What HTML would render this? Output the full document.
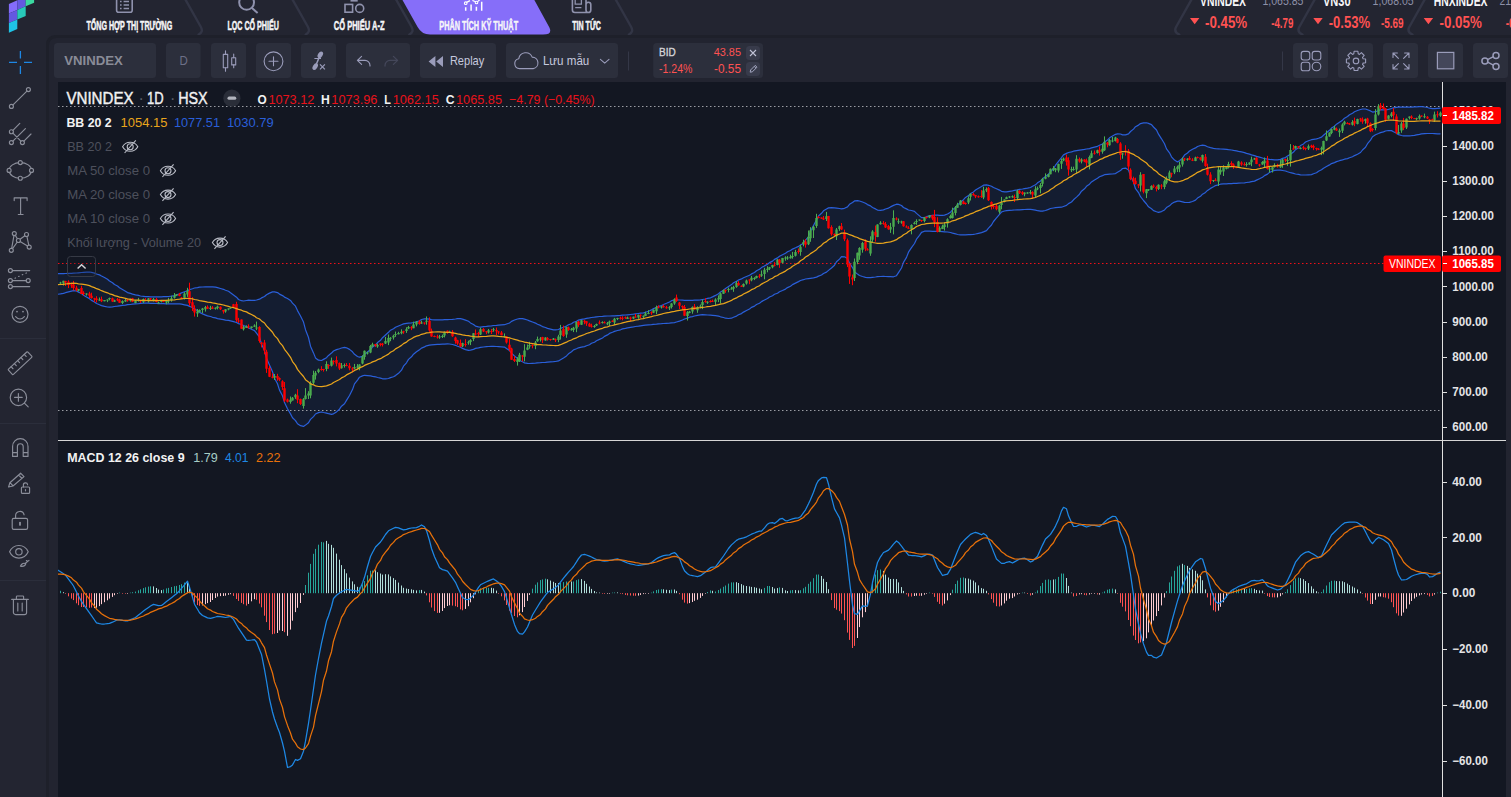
<!DOCTYPE html>
<html lang="vi"><head><meta charset="utf-8"><title>VNINDEX - Phân tích kỹ thuật</title>
<style>
html,body{margin:0;padding:0}
body{width:1511px;height:797px;overflow:hidden;background:#232531;position:relative;font-family:"Liberation Sans", sans-serif}
svg{display:block;overflow:hidden}
#nav{position:absolute;left:0;top:0;width:1511px;height:38px;overflow:hidden}
#side{position:absolute;left:0;top:38px;width:46px;height:759px}
#frame{position:absolute;left:46px;top:35px;width:1465px;height:762px;background:#1e202a;border-radius:9px 0 0 0}
#main{position:absolute;left:49px;top:38px;width:1462px;height:759px;background:#222430;border-radius:7px 0 0 0;overflow:hidden}
#toolbar{position:absolute;left:0;top:0;width:1462px;height:44px}
#chart{position:absolute;left:9px;top:44px;width:1448px;height:715px}
</style></head>
<body>
<div id="nav"><svg width="1511" height="38" viewBox="0 0 1511 38" font-family='"Liberation Sans", sans-serif'>
<path d="M8.9 3.9l8.4 -3.6v9.6l-8.4 3.6z" fill="#846cfb"/>
<path d="M8.9 13.5l8.4 -3.6v9.6l-8.4 3.6z" fill="#6459e0"/>
<path d="M8.9 23.1l8.4 -3.6v9.6l-8.4 3.6z" fill="#1fc3e6"/>
<path d="M17.3 0.3l8.4 -3.6v9.6l-8.4 3.6z" fill="#6459e0"/>
<path d="M17.3 9.9l8.4 -3.6v9.6l-8.4 3.6z" fill="#28c9b9"/>
<path d="M25.7 -3.3l8.4 -3.6v9.6l-8.4 3.6z" fill="#3bd8a0"/>
<path d="M185.1 -1L200.9 27Q203.6 32 198.6 34.5M292.2 -1L308 27Q310.7 32 305.7 34.5M395.8 -1L411.6 27Q414.3 32 409.3 34.5M615.4 -1L631.2 27Q633.9 32 628.9 34.5M1191.8 -1L1175.8 27.5Q1173.8 32 1179.3 34.5M1315 -1L1299 27.5Q1297 32 1302.5 34.5M1425 -1L1409 27.5Q1407 32 1412.5 34.5" fill="none" stroke="#323545" stroke-width="2.4" stroke-linecap="round"/>
<path d="M401.9 -1L417.6 27Q421.8 34.6 430 34.6H543Q552.8 34.6 549.4 27.6L533.8 -1Z" fill="#866ef9"/>
<text x="86.4" y="29.8" font-size="12" fill="#f6f6f8" textLength="85.8" lengthAdjust="spacingAndGlyphs" font-weight="bold" stroke="#f6f6f8" stroke-width="0.45">TỔNG HỢP THỊ TRƯỜNG</text>
<text x="227.4" y="29.8" font-size="12" fill="#f6f6f8" textLength="51.5" lengthAdjust="spacingAndGlyphs" font-weight="bold" stroke="#f6f6f8" stroke-width="0.45">LỌC CỔ PHIẾU</text>
<text x="333.8" y="29.8" font-size="12" fill="#f6f6f8" textLength="50.7" lengthAdjust="spacingAndGlyphs" font-weight="bold" stroke="#f6f6f8" stroke-width="0.45">CỔ PHIẾU A-Z</text>
<text x="439.3" y="29.8" font-size="12" fill="#f6f6f8" textLength="78.8" lengthAdjust="spacingAndGlyphs" font-weight="bold" stroke="#f6f6f8" stroke-width="0.45">PHÂN TÍCH KỸ THUẬT</text>
<text x="572.2" y="29.8" font-size="12" fill="#f6f6f8" textLength="28.7" lengthAdjust="spacingAndGlyphs" font-weight="bold" stroke="#f6f6f8" stroke-width="0.45">TIN TỨC</text>
<g fill="none" stroke="#8f92ad" stroke-width="1.6"><rect x="116.6" y="-6" width="15.6" height="18.3" rx="2"/><path d="M120 1.5h1.6M123.6 1.5h5.4M120 5h1.6M123.6 5h5.4M120 8.5h1.6M123.6 8.5h5.4" stroke-width="1.3"/></g>
<g fill="none" stroke="#8f92ad" stroke-width="2"><circle cx="246.6" cy="2.4" r="7.4"/><path d="M252 8l5.6 5"/></g>
<g fill="none" stroke="#8f92ad" stroke-width="1.6"><rect x="345" y="4.4" width="7.6" height="7.8"/><circle cx="359.7" cy="8.4" r="4"/><path d="M350.5 0.8h7.2"/></g>
<g fill="none" stroke="#fff" stroke-width="1.5"><path d="M465.7 7.2V10.7M471.1 4.4V10.7M476.4 6.8V10.7M481.7 1.8V10.7"/><path d="M466.6 2.4L470 0.6M472.4 0.4L475.6 1.8M477.6 1.6L480.6 -1" stroke-width="1.2"/><circle cx="465.7" cy="3.2" r="1.3" stroke-width="1.1"/><circle cx="476.5" cy="2.5" r="1.3" stroke-width="1.1"/></g>
<g fill="none" stroke="#8f92ad" stroke-width="1.6"><path d="M572.4 -2V10Q572.4 12.5 574.9 12.5H588.2Q590.8 12.5 590.8 9.9V4.6Q590.8 2.2 588.4 2.2Q586 2.2 586 4.6V10Q586 12.5 588.2 12.5M586 4.6V-2"/><path d="M575.2 -1.5h6.2v5.6h-6.2zM575.2 7.6h6.2" stroke-width="1.3"/></g>
<text x="1200" y="5.5" font-size="14" fill="#f6f6f8" textLength="46" lengthAdjust="spacingAndGlyphs" font-weight="bold">VNINDEX</text>
<text x="1262.4" y="5.3" font-size="13" fill="#8d90a8" textLength="41.1" lengthAdjust="spacingAndGlyphs">1,065.85</text>
<text x="1322.9" y="5.5" font-size="14" fill="#f6f6f8" textLength="27.7" lengthAdjust="spacingAndGlyphs" font-weight="bold">VN30</text>
<text x="1372.6" y="5.3" font-size="13" fill="#8d90a8" textLength="41.1" lengthAdjust="spacingAndGlyphs">1,068.05</text>
<text x="1433.8" y="5.5" font-size="14" fill="#f6f6f8" textLength="53.7" lengthAdjust="spacingAndGlyphs" font-weight="bold">HNXINDEX</text>
<text x="1499.4" y="5.3" font-size="13" fill="#8d90a8" textLength="30.8" lengthAdjust="spacingAndGlyphs">211.94</text>
<path d="M1190 18h9.4l-4.7 6.2zM1313.3 18h9.4l-4.7 6.2zM1423.7 18h9.4l-4.7 6.2z" fill="#ff5252"/>
<text x="1205" y="27.7" font-size="16" fill="#ff5252" textLength="42.2" lengthAdjust="spacingAndGlyphs" font-weight="bold">-0.45%</text>
<text x="1271.2" y="27.7" font-size="14.5" fill="#ff5252" textLength="22.2" lengthAdjust="spacingAndGlyphs" font-weight="bold">-4.79</text>
<text x="1328.7" y="27.7" font-size="16" fill="#ff5252" textLength="41.3" lengthAdjust="spacingAndGlyphs" font-weight="bold">-0.53%</text>
<text x="1380.9" y="27.7" font-size="14.5" fill="#ff5252" textLength="22.7" lengthAdjust="spacingAndGlyphs" font-weight="bold">-5.69</text>
<text x="1439.6" y="27.7" font-size="16" fill="#ff5252" textLength="42.1" lengthAdjust="spacingAndGlyphs" font-weight="bold">-0.05%</text>
<text x="1505.7" y="27.7" font-size="14.5" fill="#ff5252" textLength="22.2" lengthAdjust="spacingAndGlyphs" font-weight="bold">-0.11</text>
</svg></div>
<div id="frame"></div>
<div id="side"><svg width="46" height="759" viewBox="0 38 46 759" fill="none" stroke="#8b8e9a" stroke-width="1.15" stroke-linecap="round" stroke-linejoin="round">
<path d="M9 62.3h8M24 62.3h8M20.4 51v7.6M20.4 66v8" stroke="#1e88e5" stroke-width="1.3" stroke-linecap="butt"/>
<circle cx="28.4" cy="89.6" r="2"/><circle cx="11.4" cy="106.4" r="2"/><path d="M13 104.9L26.9 91.1"/>
<circle cx="11.4" cy="131.7" r="2"/><circle cx="11.4" cy="142.6" r="2"/><circle cx="22.4" cy="142.6" r="2"/><path d="M12.9 130.3L19.8 123.4M12.9 141.2L25.4 128.6M23.9 141.2L31 134M12.9 133.2L20.9 141.1"/>
<ellipse cx="20.3" cy="170.4" rx="11.2" ry="7.8"/>
<g fill="#232531"><circle cx="20.3" cy="162.6" r="2"/><circle cx="20.3" cy="178.2" r="2"/><circle cx="9.1" cy="170.4" r="2"/><circle cx="31.5" cy="170.4" r="2"/></g>
<path d="M14.2 200.6v-2.8h12.9v2.8M20.6 197.8v16.7M18.3 214.5h4.8"/>
<path d="M11.3 250.3L14.3 233.6L18.4 240.5L26.5 234.5L29.2 247.1L18.4 240.5L11.3 250.3"/>
<g fill="#232531"><circle cx="14.3" cy="233.6" r="2"/><circle cx="26.5" cy="234.5" r="2"/><circle cx="18.4" cy="240.5" r="2"/><circle cx="29.2" cy="247.1" r="2"/><circle cx="11.3" cy="250.3" r="2"/></g>
<path d="M12.4 270.6H29.7M12.4 280.6H26.2M12.4 286.6H29.7"/><path d="M15 278.2L28.4 272" stroke-dasharray="0.6 3.4"/>
<circle cx="10.4" cy="270.6" r="2"/><circle cx="10.4" cy="280.6" r="2"/><circle cx="28.2" cy="280.6" r="2"/><circle cx="10.4" cy="286.6" r="2"/>
<circle cx="20" cy="314.3" r="8"/><path d="M15.6 316.6Q20 321.4 24.4 316.6"/><circle cx="17" cy="311.6" r="0.9" fill="#8b8e9a" stroke="none"/><circle cx="23" cy="311.6" r="0.9" fill="#8b8e9a" stroke="none"/>
<path d="M0 338.5H46M0 423.5H46M0 580.5H46" stroke="#2b2e3b" stroke-width="1"/>
<g transform="translate(20.1 363.2) rotate(-43)"><rect x="-13.3" y="-3.6" width="26.6" height="7.2" rx="0.8"/><path d="M-9 -3.6v2.8M-4.5 -3.6v2.8M0 -3.6v2.8M4.5 -3.6v2.8M9 -3.6v2.8"/></g>
<circle cx="18.4" cy="397.4" r="8.2"/><path d="M24.4 403.2L28.2 406.8M14.6 397.4h7.6M18.4 393.6v7.6"/>
<path d="M12.6 456.4V446.4a7.7 7.7 0 0 1 15.4 0V456.4H23.2V446.6a2.9 2.9 0 0 0 -5.8 0V456.4ZM12.6 452.6h4.8M23.2 452.6h4.8"/>
<path d="M8.6 487l1.3 -4.3L20.6 473.2l3.4 3.4L13 486ZM10 482.6l3.1 3.3M18.6 475l3.4 3.4"/>
<rect x="21.4" y="487" width="8.2" height="6.4" rx="1"/><path d="M23.4 487v-1.8a2.1 2.1 0 0 1 4.2 -0.4M25.5 489.6v1.2"/>
<rect x="12.2" y="518.4" width="15.4" height="11" rx="1.6"/><path d="M15.6 518.4v-2.6a4.3 4.3 0 0 1 8.5 -1M20 522.6v2.4" /><path d="M20 522.6v2.4" stroke-width="1.6"/>
<path d="M9.6 551.8C13.4 543.4 24.4 543.4 28.2 551.8C24.4 560.2 13.4 560.2 9.6 551.8Z"/><circle cx="18.9" cy="551.8" r="3.2"/>
<path d="M20.4 566.2c1.2 -2.6 3.6 -3.6 5.4 -2.4c-0.6 2 -2.6 2.8 -5.4 2.4ZM25.4 563.2l3.6 -2.8M26.4 560.6l1.2 0.8"/>
<path d="M11.7 599.4H28.3M16.4 599.4v-2.6a0.8 0.8 0 0 1 0.8 -0.8h5.6a0.8 0.8 0 0 1 0.8 0.8v2.6M13.4 599.4v13a2.2 2.2 0 0 0 2.2 2.2h8.8a2.2 2.2 0 0 0 2.2 -2.2v-13M17.8 603v8M22.2 603v8"/>
</svg></div>
<div id="main">
<div id="toolbar"><svg width="1462" height="44" viewBox="49 38 1462 44" font-family='"Liberation Sans", sans-serif'>
<rect x="54" y="43" width="102" height="35" rx="3.5" fill="#2c2f3c"/>
<rect x="166" y="43" width="34.6" height="35" rx="3.5" fill="#2c2f3c"/>
<rect x="211" y="43" width="35" height="35" rx="3.5" fill="#2c2f3c"/>
<rect x="256" y="43" width="35" height="35" rx="3.5" fill="#2c2f3c"/>
<rect x="301" y="43" width="35" height="35" rx="3.5" fill="#2c2f3c"/>
<rect x="346" y="43" width="64" height="35" rx="3.5" fill="#2c2f3c"/>
<rect x="420" y="43" width="76" height="35" rx="3.5" fill="#2c2f3c"/>
<rect x="506" y="43" width="112" height="35" rx="3.5" fill="#2c2f3c"/>
<rect x="653.2" y="43" width="109.8" height="35" rx="3.5" fill="#2c2f3c"/>
<rect x="1293" y="43" width="35" height="35" rx="3.5" fill="#2c2f3c"/>
<rect x="1338" y="43" width="35" height="35" rx="3.5" fill="#2c2f3c"/>
<rect x="1383" y="43" width="35" height="35" rx="3.5" fill="#2c2f3c"/>
<rect x="1428" y="43" width="35" height="35" rx="3.5" fill="#2c2f3c"/>
<rect x="1473" y="43" width="35" height="35" rx="3.5" fill="#2c2f3c"/>
<text x="64.2" y="64.9" font-size="13" fill="#8a8c98" textLength="58.6" lengthAdjust="spacingAndGlyphs" font-weight="bold">VNINDEX</text>
<text x="179.4" y="65" font-size="13" fill="#6d7087" textLength="8.3" lengthAdjust="spacingAndGlyphs">D</text>
<g fill="none" stroke="#9a9cba" stroke-width="1.1" stroke-linecap="round" stroke-linejoin="round"><rect x="223.3" y="54.4" width="4.4" height="13.4"/><path d="M225.5 50.8v3.6M225.5 67.8v3.4"/><rect x="231.7" y="57.7" width="4" height="7.2"/><path d="M233.7 54v3.7M233.7 64.9v2.9"/></g>
<g fill="none" stroke="#9a9cba" stroke-width="1.1" stroke-linecap="round" stroke-linejoin="round"><circle cx="273.5" cy="61.3" r="9.4"/><path d="M269 61.3h9M273.5 56.8v9"/></g>
<g><ellipse cx="320.3" cy="54.8" rx="3.6" ry="2.3" transform="rotate(-58 320.3 54.8)" fill="#9a9cba"/><ellipse cx="315.2" cy="66.6" rx="3.6" ry="2.3" transform="rotate(-58 315.2 66.6)" fill="#9a9cba"/><path d="M319.6 56.4L316 65" stroke="#9a9cba" stroke-width="1.5" fill="none"/><path d="M314.4 58.5h6.6" stroke="#9a9cba" stroke-width="1.2" fill="none"/><path d="M320 64.4l4.9 4.9M324.9 64.4l-4.9 4.9" stroke="#9a9cba" stroke-width="1.2" fill="none"/></g>
<g fill="none" stroke="#9a9cba" stroke-width="1.1" stroke-linecap="round" stroke-linejoin="round"><path d="M361.6 56.4l-4.2 4l4.2 4M357.6 60.4h7.4a5 5 0 0 1 5 5v0.6"/></g>
<g fill="none" stroke="#44475a" stroke-width="1.25" stroke-linecap="round" stroke-linejoin="round"><path d="M393.4 56.4l4.2 4l-4.2 4M397.4 60.4h-7.4a5 5 0 0 0 -5 5v0.6"/></g>
<path d="M435.4 56v11l-6.8 -5.5zM443 56v11l-6.8 -5.5z" fill="#9a9cba"/>
<text x="449.9" y="65" font-size="13" fill="#c6c9de" textLength="34.4" lengthAdjust="spacingAndGlyphs">Replay</text>
<g fill="none" stroke="#9a9cba" stroke-width="1.1" stroke-linecap="round" stroke-linejoin="round"><path d="M519.6 68.6a5 5 0 0 1 -0.8 -9.9a7 7 0 0 1 13.4 -1.6a5.8 5.8 0 0 1 1 11.5Z"/></g>
<text x="542.9" y="65" font-size="13" fill="#c6c9de" textLength="46.4" lengthAdjust="spacingAndGlyphs">Lưu mẫu</text>
<path d="M600.4 59.4l4.3 3.8l4.3 -3.8" fill="none" stroke="#9a9cba" stroke-width="1.1" stroke-linecap="round" stroke-linejoin="round"/>
<path d="M628.5 51.5V70.5M1282.5 51.5V70.5" stroke="#343747" stroke-width="1"/>
<text x="659" y="55.9" font-size="11" fill="#d4d4d8" textLength="16.7" lengthAdjust="spacingAndGlyphs" stroke="#d4d4d8" stroke-width="0.35">BID</text>
<text x="713.7" y="56" font-size="11.5" fill="#ff5252" textLength="27.3" lengthAdjust="spacingAndGlyphs">43.85</text>
<text x="659" y="73" font-size="12.5" fill="#ff5252" textLength="33.4" lengthAdjust="spacingAndGlyphs">-1.24%</text>
<text x="714" y="73" font-size="12.5" fill="#ff5252" textLength="27" lengthAdjust="spacingAndGlyphs">-0.55</text>
<rect x="746" y="46" width="14" height="14" rx="3.5" fill="#383b4b"/>
<rect x="746" y="62" width="14" height="14" rx="3.5" fill="#383b4b"/>
<path d="M750 50l6 6M756 50l-6 6" stroke="#c0c2d6" stroke-width="1.1" fill="none"/>
<path d="M750.2 72.2l0.4 -2.2l4.6 -4.6l1.8 1.8l-4.6 4.6zM754.2 66.4l1.8 1.8" stroke="#a3a6c0" stroke-width="1" fill="none" stroke-linejoin="round"/>
<g fill="none" stroke="#9a9cba" stroke-width="1.1" stroke-linecap="round" stroke-linejoin="round"><rect x="1301.2" y="51.4" width="8.6" height="8.6" rx="2.4"/><rect x="1312.2" y="51.4" width="8.6" height="8.6" rx="2.4"/><rect x="1301.2" y="62.2" width="8.6" height="8.6" rx="2.4"/><circle cx="1316.5" cy="66.5" r="4.3"/></g>
<g fill="none" stroke="#9a9cba" stroke-width="1.1" stroke-linecap="round" stroke-linejoin="round"><path d="M1354.1 51.3L1357.9 51.3L1358.2 53.8L1359.5 54.4L1361.4 52.7L1364.2 55.5L1362.5 57.4L1363.1 58.7L1365.6 59L1365.6 62.8L1363.1 63.1L1362.5 64.4L1364.2 66.3L1361.4 69.1L1359.5 67.4L1358.2 68L1357.9 70.5L1354.1 70.5L1353.8 68L1352.5 67.4L1350.6 69.1L1347.8 66.3L1349.5 64.4L1348.9 63.1L1346.4 62.8L1346.4 59L1348.9 58.7L1349.5 57.4L1347.8 55.5L1350.6 52.7L1352.5 54.4L1353.8 53.8Z"/><circle cx="1356" cy="60.9" r="2.8"/></g>
<g fill="none" stroke="#9a9cba" stroke-width="1.1" stroke-linecap="round" stroke-linejoin="round"><path d="M1393 57.4v-4.4h4.4M1393 53l5.4 5.4M1409 57.4v-4.4h-4.4M1409 53l-5.4 5.4M1393 64.6v4.4h4.4M1393 69l5.4 -5.4M1409 64.6v4.4h-4.4M1409 69l-5.4 -5.4"/></g>
<rect x="1437.4" y="52.4" width="16.4" height="16.4" fill="#44475a" stroke="#9a9cba" stroke-width="1.2"/>
<g fill="none" stroke="#9a9cba" stroke-width="1.5"><circle cx="1496" cy="55.4" r="3"/><circle cx="1496" cy="66.4" r="3"/><circle cx="1484.9" cy="60.9" r="3"/><path d="M1487.6 59.6l5.8 -2.9M1487.6 62.2l5.8 2.9"/></g>
</svg></div>
<div id="chart"><svg id="chartsvg" width="1448" height="715" viewBox="58 82 1448 715" font-family='"Liberation Sans", sans-serif'>
<rect x="58" y="82" width="1448" height="715" fill="#131722"/>
<path d="M57 273.7 L60.5 273.6 L63.5 273.6 L65.5 273.5 L68.5 273.4 L71.5 273.3 L73.5 273.2 L76.5 273 L78.5 272.8 L81.5 272.5 L83.5 272.3 L86.5 272.1 L89.5 272 L91.5 272.4 L94.5 273.1 L96.5 274 L99.5 274.9 L101.5 276 L104.5 277.5 L107.5 279.2 L109.5 281 L112.5 282.7 L114.5 284.5 L117.5 286 L119.5 287.8 L122.5 289.5 L125.5 291.2 L127.5 292.6 L130.5 293.4 L132.5 294.1 L135.5 294.8 L138.5 295.4 L140.5 296 L143.5 296.3 L145.5 296.6 L148.5 296.7 L150.5 296.8 L153.5 296.9 L156.5 296.9 L158.5 296.9 L161.5 296.8 L163.5 296.7 L166.5 296.6 L168.5 296.5 L171.5 296.2 L174.5 295.6 L176.5 294.8 L179.5 293.9 L181.5 292.9 L184.5 291.8 L187.5 290.7 L189.5 289.6 L192.5 288.7 L194.5 288 L197.5 287.6 L199.5 287.2 L202.5 287 L205.5 286.8 L207.5 286.8 L210.5 286.9 L212.5 286.9 L215.5 287.2 L217.5 287.7 L220.5 288.5 L223.5 289.3 L225.5 290.2 L228.5 291.2 L230.5 292.8 L233.5 294.9 L236.5 297.2 L238.5 299.5 L241.5 300.7 L243.5 301 L246.5 300.5 L248.5 300.2 L251.5 300.3 L254.5 300.4 L256.5 300 L259.5 299.2 L261.5 297.9 L264.5 296.5 L266.5 294.7 L269.5 293.1 L272.5 291.9 L274.5 291.9 L277.5 292.6 L279.5 294.1 L282.5 295.6 L284.5 297.1 L287.5 298.5 L290.5 300.4 L292.5 303.1 L295.5 306.2 L297.5 310.6 L300.5 316 L303.5 322.1 L305.5 329.7 L308.5 337.5 L310.5 346.2 L313.5 352.9 L315.5 357.9 L318.5 360.2 L321.5 360.5 L323.5 359.4 L326.5 357.7 L328.5 355.4 L331.5 353.1 L333.5 351 L336.5 349.6 L339.5 348.7 L341.5 348 L344.5 347.4 L346.5 347.8 L349.5 349.4 L352.5 351.8 L354.5 354.3 L357.5 356.5 L359.5 357.2 L362.5 356.4 L364.5 354.2 L367.5 351.9 L370.5 349.5 L372.5 347.1 L375.5 345 L377.5 342.6 L380.5 340.3 L382.5 337.7 L385.5 335 L388.5 332.3 L390.5 330.2 L393.5 328.7 L395.5 327.3 L398.5 326 L401.5 324.7 L403.5 323.9 L406.5 323.4 L408.5 323.2 L411.5 322.9 L413.5 322.5 L416.5 321.8 L419.5 320.7 L421.5 319.5 L424.5 318.9 L426.5 318.8 L429.5 319.2 L431.5 319.7 L434.5 319.9 L437.5 319.9 L439.5 319.9 L442.5 319.8 L444.5 319.7 L447.5 319.6 L449.5 319.5 L452.5 319.3 L455.5 319 L457.5 318.6 L460.5 318.6 L462.5 319.1 L465.5 320.1 L468.5 321.3 L470.5 322.9 L473.5 324.6 L475.5 326.1 L478.5 326.9 L480.5 327.1 L483.5 326.7 L486.5 326.4 L488.5 326.1 L491.5 325.8 L493.5 325.5 L496.5 325.3 L498.5 325.1 L501.5 324.9 L504.5 324.7 L506.5 324 L509.5 323 L511.5 321.4 L514.5 320 L517.5 319 L519.5 318.6 L522.5 318.7 L524.5 319.2 L527.5 320 L529.5 320.9 L532.5 322 L535.5 323.1 L537.5 324.3 L540.5 325.4 L542.5 326.6 L545.5 327.5 L547.5 328.4 L550.5 329.1 L553.5 329.8 L555.5 329.9 L558.5 329.5 L560.5 328.4 L563.5 327.3 L566.5 326.1 L568.5 324.8 L571.5 323.7 L573.5 322.3 L576.5 321.2 L578.5 320.1 L581.5 319.4 L584.5 318.9 L586.5 318.4 L589.5 317.9 L591.5 317.5 L594.5 317.2 L596.5 316.8 L599.5 316.5 L602.5 316.3 L604.5 316.1 L607.5 316 L609.5 316 L612.5 315.9 L614.5 315.8 L617.5 315.6 L620.5 315.4 L622.5 315.2 L625.5 315 L627.5 314.8 L630.5 314.5 L633.5 314.2 L635.5 313.9 L638.5 313.5 L640.5 313.2 L643.5 312.9 L645.5 312.2 L648.5 311.2 L651.5 309.9 L653.5 308.6 L656.5 307.5 L658.5 306.4 L661.5 305.6 L663.5 304.5 L666.5 303.3 L669.5 302 L671.5 300.7 L674.5 300 L676.5 299.8 L679.5 300 L682.5 300.2 L684.5 300.3 L687.5 300.4 L689.5 300.4 L692.5 300.3 L694.5 300.2 L697.5 300.1 L700.5 299.9 L702.5 299.5 L705.5 299 L707.5 298.4 L710.5 297.8 L712.5 296.9 L715.5 295.4 L718.5 293.7 L720.5 291.9 L723.5 290.2 L725.5 288.4 L728.5 286.5 L731.5 284.6 L733.5 282.8 L736.5 281.4 L738.5 280 L741.5 278.9 L743.5 277.7 L746.5 276.5 L749.5 275.3 L751.5 273.9 L754.5 272.5 L756.5 270.8 L759.5 269.3 L761.5 267.6 L764.5 265.9 L767.5 264.3 L769.5 262.6 L772.5 261.1 L774.5 259.4 L777.5 257.9 L779.5 256.3 L782.5 254.7 L785.5 253.2 L787.5 251.8 L790.5 250.5 L792.5 249.1 L795.5 247.8 L798.5 246.4 L800.5 245.1 L803.5 243.2 L805.5 240.2 L808.5 236.8 L810.5 231.2 L813.5 225.5 L816.5 219.8 L818.5 216 L821.5 213.3 L823.5 210.8 L826.5 209 L828.5 207.9 L831.5 207.7 L834.5 207.9 L836.5 208.1 L839.5 208.5 L841.5 208.9 L844.5 208.3 L847.5 206.9 L849.5 204.3 L852.5 202.4 L854.5 200.9 L857.5 200.6 L859.5 201 L862.5 202 L865.5 203.2 L867.5 204.6 L870.5 205.9 L872.5 207.5 L875.5 208.9 L877.5 210.1 L880.5 210.3 L883.5 209.9 L885.5 209 L888.5 208.1 L890.5 206.9 L893.5 205.4 L896.5 204.2 L898.5 204.4 L901.5 205.5 L903.5 207.5 L906.5 208.9 L908.5 210 L911.5 210.5 L914.5 211.4 L916.5 213.4 L919.5 215.9 L921.5 217.6 L924.5 217.7 L926.5 216.7 L929.5 215.9 L932.5 215.3 L934.5 215.1 L937.5 215.2 L939.5 215.3 L942.5 215.4 L944.5 215.1 L947.5 214 L950.5 212.2 L952.5 209.8 L955.5 207.5 L957.5 204.9 L960.5 202.2 L963.5 199.7 L965.5 197.4 L968.5 195.6 L970.5 193.6 L973.5 191.9 L975.5 190 L978.5 188.2 L981.5 186.5 L983.5 185.2 L986.5 184.8 L988.5 185.3 L991.5 186.3 L993.5 187.5 L996.5 188.8 L999.5 190.1 L1001.5 191.3 L1004.5 191.9 L1006.5 191.9 L1009.5 191.4 L1012.5 190.9 L1014.5 190.3 L1017.5 189.9 L1019.5 189.4 L1022.5 189 L1024.5 188.6 L1027.5 188.1 L1030.5 187.5 L1032.5 186.3 L1035.5 184.8 L1037.5 182.8 L1040.5 181 L1042.5 178.8 L1045.5 176.5 L1048.5 174.2 L1050.5 171.5 L1053.5 168.7 L1055.5 165.2 L1058.5 161.4 L1061.5 157.7 L1063.5 154.9 L1066.5 153.4 L1068.5 152.5 L1071.5 151.9 L1073.5 151.2 L1076.5 150.6 L1079.5 150.1 L1081.5 149.8 L1084.5 149.4 L1086.5 149 L1089.5 148.6 L1091.5 147.9 L1094.5 147.1 L1097.5 146.3 L1099.5 145.3 L1102.5 144 L1104.5 142.1 L1107.5 140 L1109.5 137.8 L1112.5 136 L1115.5 134.3 L1117.5 133.8 L1120.5 134 L1122.5 134.9 L1125.5 134.9 L1128.5 133.9 L1130.5 131.5 L1133.5 129.1 L1135.5 126.7 L1138.5 125.1 L1140.5 123.6 L1143.5 122.9 L1146.5 122.8 L1148.5 123.4 L1151.5 124.6 L1153.5 127 L1156.5 130 L1158.5 134.2 L1161.5 138.8 L1164.5 143.8 L1166.5 148.9 L1169.5 152.8 L1171.5 156.8 L1174.5 160.1 L1177.5 161.9 L1179.5 160.8 L1182.5 158.1 L1184.5 155.1 L1187.5 153 L1189.5 151 L1192.5 149.3 L1195.5 147.9 L1197.5 146.5 L1200.5 145.5 L1202.5 145.2 L1205.5 145.7 L1207.5 146.7 L1210.5 147.6 L1213.5 148.3 L1215.5 148.7 L1218.5 148.8 L1220.5 149 L1223.5 149.2 L1226.5 149.4 L1228.5 149.7 L1231.5 150 L1233.5 150.4 L1236.5 150.8 L1238.5 151.3 L1241.5 151.9 L1244.5 152.6 L1246.5 153.4 L1249.5 154.1 L1251.5 154.9 L1254.5 155.6 L1256.5 156.4 L1259.5 157.2 L1262.5 158 L1264.5 158.7 L1267.5 159.1 L1269.5 159.4 L1272.5 159.7 L1274.5 159.9 L1277.5 159.8 L1280.5 159.4 L1282.5 158.4 L1285.5 157.6 L1287.5 156.1 L1290.5 154.2 L1293.5 152 L1295.5 149.7 L1298.5 147.7 L1300.5 145.6 L1303.5 143.9 L1305.5 142 L1308.5 140.7 L1311.5 139.7 L1313.5 139.3 L1316.5 138.9 L1318.5 138.3 L1321.5 137.1 L1323.5 135.2 L1326.5 132.7 L1329.5 130.3 L1331.5 128.1 L1334.5 126.2 L1336.5 124.2 L1339.5 122.2 L1342.5 120.2 L1344.5 118.2 L1347.5 116.5 L1349.5 114.7 L1352.5 113.2 L1354.5 111.8 L1357.5 110.5 L1360.5 109.5 L1362.5 109 L1365.5 109 L1367.5 109.7 L1370.5 110.9 L1372.5 112.1 L1375.5 111.7 L1378.5 110.6 L1380.5 109.6 L1383.5 109.8 L1385.5 109.8 L1388.5 109.3 L1391.5 108.5 L1393.5 107.8 L1396.5 107.4 L1398.5 107.2 L1401.5 107.2 L1403.5 107.2 L1406.5 107.2 L1409.5 107.2 L1411.5 107.1 L1414.5 106.9 L1416.5 106.8 L1419.5 106.7 L1421.5 106.7 L1424.5 107 L1427.5 107.5 L1429.5 108.2 L1432.5 108.6 L1434.5 108.7 L1437.5 108.4 L1440.5 108.1 L1440.5 133.9 L1437.5 133.8 L1434.5 133.6 L1432.5 133.5 L1429.5 133.5 L1427.5 133.5 L1424.5 133.6 L1421.5 133.9 L1419.5 134.4 L1416.5 134.9 L1414.5 135.4 L1411.5 135.7 L1409.5 135.8 L1406.5 135.9 L1403.5 135.9 L1401.5 135.5 L1398.5 134.7 L1396.5 133.2 L1393.5 131.7 L1391.5 130.6 L1388.5 130.5 L1385.5 131 L1383.5 131.9 L1380.5 132.6 L1378.5 133.5 L1375.5 134.7 L1372.5 136.7 L1370.5 140.1 L1367.5 143.7 L1365.5 147.3 L1362.5 150 L1360.5 152.5 L1357.5 154.2 L1354.5 155.6 L1352.5 156.8 L1349.5 157.8 L1347.5 158.6 L1344.5 159.2 L1342.5 159.9 L1339.5 160.7 L1336.5 161.6 L1334.5 162.6 L1331.5 163.6 L1329.5 164.9 L1326.5 166.5 L1323.5 168.2 L1321.5 169.8 L1318.5 171.2 L1316.5 172.7 L1313.5 173.8 L1311.5 174.6 L1308.5 174.8 L1305.5 175 L1303.5 175 L1300.5 174.8 L1298.5 174.4 L1295.5 174 L1293.5 173.4 L1290.5 172.7 L1287.5 171.8 L1285.5 171 L1282.5 170.5 L1280.5 170.2 L1277.5 170.2 L1274.5 170.4 L1272.5 171.1 L1269.5 172.4 L1267.5 174.1 L1264.5 175.6 L1262.5 177.2 L1259.5 178.7 L1256.5 180.1 L1254.5 181.1 L1251.5 181.6 L1249.5 182.1 L1246.5 182.5 L1244.5 182.8 L1241.5 183 L1238.5 183.1 L1236.5 183.3 L1233.5 183.4 L1231.5 183.6 L1228.5 183.7 L1226.5 183.8 L1223.5 183.9 L1220.5 184.2 L1218.5 184.8 L1215.5 185.6 L1213.5 186.8 L1210.5 188.4 L1207.5 190.4 L1205.5 192.4 L1202.5 194.2 L1200.5 196.3 L1197.5 198.1 L1195.5 200.1 L1192.5 201.5 L1189.5 202.3 L1187.5 202.5 L1184.5 202.3 L1182.5 201.8 L1179.5 201.1 L1177.5 201.1 L1174.5 202.1 L1171.5 203.8 L1169.5 205.8 L1166.5 207.6 L1164.5 209.9 L1161.5 211.6 L1158.5 212.4 L1156.5 211.8 L1153.5 210.6 L1151.5 208.8 L1148.5 206.8 L1146.5 204 L1143.5 200.5 L1140.5 196.7 L1138.5 192.6 L1135.5 188.7 L1133.5 182.3 L1130.5 176 L1128.5 169.9 L1125.5 168.1 L1122.5 168.5 L1120.5 170.6 L1117.5 172.3 L1115.5 173.6 L1112.5 174 L1109.5 174.1 L1107.5 174.3 L1104.5 174.7 L1102.5 175.6 L1099.5 176.8 L1097.5 178.3 L1094.5 180 L1091.5 181.9 L1089.5 184.2 L1086.5 186.3 L1084.5 188.8 L1081.5 191.2 L1079.5 194.2 L1076.5 197.1 L1073.5 199.8 L1071.5 202 L1068.5 203.6 L1066.5 205.4 L1063.5 206.5 L1061.5 207.2 L1058.5 207.4 L1055.5 207.7 L1053.5 208 L1050.5 208.5 L1048.5 209.4 L1045.5 210.5 L1042.5 211.2 L1040.5 211.2 L1037.5 210.7 L1035.5 210.1 L1032.5 209.6 L1030.5 209.4 L1027.5 209.4 L1024.5 209.5 L1022.5 209.6 L1019.5 209.8 L1017.5 209.9 L1014.5 210 L1012.5 210.2 L1009.5 210.4 L1006.5 210.7 L1004.5 211 L1001.5 212 L999.5 214.4 L996.5 217.9 L993.5 221.5 L991.5 225 L988.5 228.1 L986.5 230.6 L983.5 231.9 L981.5 232.6 L978.5 233.3 L975.5 234 L973.5 234.4 L970.5 234.6 L968.5 234.7 L965.5 234.8 L963.5 234.9 L960.5 234.8 L957.5 234.5 L955.5 233.8 L952.5 233.1 L950.5 232.5 L947.5 232 L944.5 231.8 L942.5 231.7 L939.5 231.5 L937.5 231.4 L934.5 231.3 L932.5 231.3 L929.5 231.2 L926.5 231.2 L924.5 231.2 L921.5 232.4 L919.5 235.3 L916.5 239.2 L914.5 243.5 L911.5 247.6 L908.5 252.2 L906.5 257.4 L903.5 262.4 L901.5 268 L898.5 272.6 L896.5 275.7 L893.5 276.8 L890.5 276.7 L888.5 276.6 L885.5 276.5 L883.5 276.4 L880.5 276.5 L877.5 276.7 L875.5 277 L872.5 277.3 L870.5 277.6 L867.5 277.7 L865.5 277.3 L862.5 276.5 L859.5 275.5 L857.5 274.1 L854.5 271.7 L852.5 267.6 L849.5 263.2 L847.5 258.6 L844.5 256.8 L841.5 256.6 L839.5 259.1 L836.5 261.7 L834.5 265.2 L831.5 268 L828.5 270.4 L826.5 272.1 L823.5 273.5 L821.5 275 L818.5 276.1 L816.5 277.1 L813.5 277.8 L810.5 278.3 L808.5 278.6 L805.5 279 L803.5 279.7 L800.5 280.5 L798.5 281.6 L795.5 283.1 L792.5 284.6 L790.5 286.2 L787.5 287.6 L785.5 289.1 L782.5 290.5 L779.5 291.8 L777.5 293.2 L774.5 294.3 L772.5 295.7 L769.5 297 L767.5 298.5 L764.5 300 L761.5 301.6 L759.5 303.2 L756.5 304.5 L754.5 306.1 L751.5 307.4 L749.5 309 L746.5 310.5 L743.5 312.1 L741.5 313.6 L738.5 314.8 L736.5 316.1 L733.5 317.3 L731.5 318.2 L728.5 318.5 L725.5 318.2 L723.5 317.5 L720.5 316.8 L718.5 316.1 L715.5 315.6 L712.5 315.3 L710.5 315.1 L707.5 315 L705.5 314.8 L702.5 314.7 L700.5 314.9 L697.5 315.3 L694.5 316 L692.5 316.6 L689.5 317.2 L687.5 318.1 L684.5 319 L682.5 320 L679.5 321.1 L676.5 322 L674.5 322.6 L671.5 322.8 L669.5 323.1 L666.5 323.3 L663.5 323.5 L661.5 323.7 L658.5 323.9 L656.5 324.2 L653.5 324.3 L651.5 324.6 L648.5 324.8 L645.5 325.1 L643.5 325.4 L640.5 325.8 L638.5 326.2 L635.5 326.5 L633.5 326.9 L630.5 327.3 L627.5 327.8 L625.5 328.3 L622.5 328.9 L620.5 329.8 L617.5 330.5 L614.5 331.4 L612.5 332.3 L609.5 333.4 L607.5 334.9 L604.5 336.4 L602.5 338 L599.5 339.4 L596.5 340.8 L594.5 342.2 L591.5 343.3 L589.5 344.7 L586.5 345.7 L584.5 346.6 L581.5 347.2 L578.5 347.8 L576.5 348.7 L573.5 349.9 L571.5 351.8 L568.5 353.8 L566.5 355.9 L563.5 357.9 L560.5 359.7 L558.5 360.9 L555.5 361.5 L553.5 361.7 L550.5 361.9 L547.5 362.1 L545.5 362.4 L542.5 362.5 L540.5 362.7 L537.5 362.9 L535.5 363.1 L532.5 363.3 L529.5 363.5 L527.5 363.4 L524.5 362.9 L522.5 361.8 L519.5 360.5 L517.5 358.5 L514.5 356 L511.5 353.3 L509.5 350.5 L506.5 348.4 L504.5 347.1 L501.5 346.8 L498.5 346.6 L496.5 346.5 L493.5 346.4 L491.5 346.4 L488.5 346.5 L486.5 346.7 L483.5 347 L480.5 347.3 L478.5 347.8 L475.5 348.4 L473.5 349.4 L470.5 350.2 L468.5 350.3 L465.5 349.6 L462.5 348.4 L460.5 347.2 L457.5 346.3 L455.5 345.3 L452.5 344.5 L449.5 344 L447.5 343.9 L444.5 344.1 L442.5 344.2 L439.5 344.3 L437.5 344.4 L434.5 344.6 L431.5 344.8 L429.5 345.1 L426.5 345.8 L424.5 346.9 L421.5 348.1 L419.5 349.7 L416.5 351.8 L413.5 354.2 L411.5 356.8 L408.5 359.4 L406.5 362.8 L403.5 366.2 L401.5 370.2 L398.5 373.3 L395.5 375.6 L393.5 376.7 L390.5 377.6 L388.5 378.5 L385.5 378.9 L382.5 378.8 L380.5 378.1 L377.5 377.5 L375.5 376.8 L372.5 376.4 L370.5 375.9 L367.5 375.6 L364.5 375.3 L362.5 375.9 L359.5 377.2 L357.5 380.1 L354.5 383.9 L352.5 389.6 L349.5 395.5 L346.5 400.4 L344.5 403.8 L341.5 406.2 L339.5 409.2 L336.5 411.9 L333.5 413.8 L331.5 414.3 L328.5 413.7 L326.5 413.1 L323.5 412.5 L321.5 412 L318.5 412.6 L315.5 414 L313.5 416.6 L310.5 419.4 L308.5 422.7 L305.5 425.1 L303.5 426.4 L300.5 425.7 L297.5 423.8 L295.5 420.6 L292.5 417.7 L290.5 413.9 L287.5 408.7 L284.5 402.6 L282.5 395.8 L279.5 390.1 L277.5 383.8 L274.5 378.2 L272.5 371.7 L269.5 365 L266.5 358.2 L264.5 350.8 L261.5 344 L259.5 337.2 L256.5 333.2 L254.5 330.6 L251.5 329.2 L248.5 327.9 L246.5 326.6 L243.5 325.6 L241.5 324.5 L238.5 323.6 L236.5 322.5 L233.5 321.6 L230.5 320.9 L228.5 320.4 L225.5 320.1 L223.5 319.6 L220.5 319.1 L217.5 318.6 L215.5 317.9 L212.5 317.3 L210.5 316.5 L207.5 315.9 L205.5 315.1 L202.5 313.9 L199.5 312.4 L197.5 310.6 L194.5 309.1 L192.5 307.5 L189.5 306.4 L187.5 305.4 L184.5 304.8 L181.5 304.2 L179.5 303.8 L176.5 303.8 L174.5 303.8 L171.5 303.8 L168.5 303.8 L166.5 303.8 L163.5 303.7 L161.5 303.7 L158.5 303.6 L156.5 303.5 L153.5 303.4 L150.5 303.3 L148.5 303.2 L145.5 303.1 L143.5 303.1 L140.5 303.3 L138.5 303.6 L135.5 303.9 L132.5 304.2 L130.5 304.5 L127.5 304.7 L125.5 305.1 L122.5 305.4 L119.5 305.8 L117.5 306.2 L114.5 306.5 L112.5 306.9 L109.5 307.2 L107.5 307 L104.5 306.4 L101.5 305.6 L99.5 304.7 L96.5 303.5 L94.5 302 L91.5 300.4 L89.5 298.7 L86.5 296.9 L83.5 295.2 L81.5 293.5 L78.5 292.1 L76.5 291 L73.5 290.7 L71.5 291.2 L68.5 291.9 L65.5 292.7 L63.5 293.4 L60.5 293.9 L57 293.9 Z" fill="#2a62e0" fill-opacity="0.08"/>
<path d="M58 106.5H1442M58 410.5H1442" stroke="#9a9ca3" stroke-width="1" stroke-dasharray="1.5 2.5" fill="none"/>
<path d="M58 263.5H1442" stroke="#f01018" stroke-width="1.2" stroke-dasharray="1.5 2.5" fill="none"/>
<path d="M57 273.7 L60.5 273.6 L63.5 273.6 L65.5 273.5 L68.5 273.4 L71.5 273.3 L73.5 273.2 L76.5 273 L78.5 272.8 L81.5 272.5 L83.5 272.3 L86.5 272.1 L89.5 272 L91.5 272.4 L94.5 273.1 L96.5 274 L99.5 274.9 L101.5 276 L104.5 277.5 L107.5 279.2 L109.5 281 L112.5 282.7 L114.5 284.5 L117.5 286 L119.5 287.8 L122.5 289.5 L125.5 291.2 L127.5 292.6 L130.5 293.4 L132.5 294.1 L135.5 294.8 L138.5 295.4 L140.5 296 L143.5 296.3 L145.5 296.6 L148.5 296.7 L150.5 296.8 L153.5 296.9 L156.5 296.9 L158.5 296.9 L161.5 296.8 L163.5 296.7 L166.5 296.6 L168.5 296.5 L171.5 296.2 L174.5 295.6 L176.5 294.8 L179.5 293.9 L181.5 292.9 L184.5 291.8 L187.5 290.7 L189.5 289.6 L192.5 288.7 L194.5 288 L197.5 287.6 L199.5 287.2 L202.5 287 L205.5 286.8 L207.5 286.8 L210.5 286.9 L212.5 286.9 L215.5 287.2 L217.5 287.7 L220.5 288.5 L223.5 289.3 L225.5 290.2 L228.5 291.2 L230.5 292.8 L233.5 294.9 L236.5 297.2 L238.5 299.5 L241.5 300.7 L243.5 301 L246.5 300.5 L248.5 300.2 L251.5 300.3 L254.5 300.4 L256.5 300 L259.5 299.2 L261.5 297.9 L264.5 296.5 L266.5 294.7 L269.5 293.1 L272.5 291.9 L274.5 291.9 L277.5 292.6 L279.5 294.1 L282.5 295.6 L284.5 297.1 L287.5 298.5 L290.5 300.4 L292.5 303.1 L295.5 306.2 L297.5 310.6 L300.5 316 L303.5 322.1 L305.5 329.7 L308.5 337.5 L310.5 346.2 L313.5 352.9 L315.5 357.9 L318.5 360.2 L321.5 360.5 L323.5 359.4 L326.5 357.7 L328.5 355.4 L331.5 353.1 L333.5 351 L336.5 349.6 L339.5 348.7 L341.5 348 L344.5 347.4 L346.5 347.8 L349.5 349.4 L352.5 351.8 L354.5 354.3 L357.5 356.5 L359.5 357.2 L362.5 356.4 L364.5 354.2 L367.5 351.9 L370.5 349.5 L372.5 347.1 L375.5 345 L377.5 342.6 L380.5 340.3 L382.5 337.7 L385.5 335 L388.5 332.3 L390.5 330.2 L393.5 328.7 L395.5 327.3 L398.5 326 L401.5 324.7 L403.5 323.9 L406.5 323.4 L408.5 323.2 L411.5 322.9 L413.5 322.5 L416.5 321.8 L419.5 320.7 L421.5 319.5 L424.5 318.9 L426.5 318.8 L429.5 319.2 L431.5 319.7 L434.5 319.9 L437.5 319.9 L439.5 319.9 L442.5 319.8 L444.5 319.7 L447.5 319.6 L449.5 319.5 L452.5 319.3 L455.5 319 L457.5 318.6 L460.5 318.6 L462.5 319.1 L465.5 320.1 L468.5 321.3 L470.5 322.9 L473.5 324.6 L475.5 326.1 L478.5 326.9 L480.5 327.1 L483.5 326.7 L486.5 326.4 L488.5 326.1 L491.5 325.8 L493.5 325.5 L496.5 325.3 L498.5 325.1 L501.5 324.9 L504.5 324.7 L506.5 324 L509.5 323 L511.5 321.4 L514.5 320 L517.5 319 L519.5 318.6 L522.5 318.7 L524.5 319.2 L527.5 320 L529.5 320.9 L532.5 322 L535.5 323.1 L537.5 324.3 L540.5 325.4 L542.5 326.6 L545.5 327.5 L547.5 328.4 L550.5 329.1 L553.5 329.8 L555.5 329.9 L558.5 329.5 L560.5 328.4 L563.5 327.3 L566.5 326.1 L568.5 324.8 L571.5 323.7 L573.5 322.3 L576.5 321.2 L578.5 320.1 L581.5 319.4 L584.5 318.9 L586.5 318.4 L589.5 317.9 L591.5 317.5 L594.5 317.2 L596.5 316.8 L599.5 316.5 L602.5 316.3 L604.5 316.1 L607.5 316 L609.5 316 L612.5 315.9 L614.5 315.8 L617.5 315.6 L620.5 315.4 L622.5 315.2 L625.5 315 L627.5 314.8 L630.5 314.5 L633.5 314.2 L635.5 313.9 L638.5 313.5 L640.5 313.2 L643.5 312.9 L645.5 312.2 L648.5 311.2 L651.5 309.9 L653.5 308.6 L656.5 307.5 L658.5 306.4 L661.5 305.6 L663.5 304.5 L666.5 303.3 L669.5 302 L671.5 300.7 L674.5 300 L676.5 299.8 L679.5 300 L682.5 300.2 L684.5 300.3 L687.5 300.4 L689.5 300.4 L692.5 300.3 L694.5 300.2 L697.5 300.1 L700.5 299.9 L702.5 299.5 L705.5 299 L707.5 298.4 L710.5 297.8 L712.5 296.9 L715.5 295.4 L718.5 293.7 L720.5 291.9 L723.5 290.2 L725.5 288.4 L728.5 286.5 L731.5 284.6 L733.5 282.8 L736.5 281.4 L738.5 280 L741.5 278.9 L743.5 277.7 L746.5 276.5 L749.5 275.3 L751.5 273.9 L754.5 272.5 L756.5 270.8 L759.5 269.3 L761.5 267.6 L764.5 265.9 L767.5 264.3 L769.5 262.6 L772.5 261.1 L774.5 259.4 L777.5 257.9 L779.5 256.3 L782.5 254.7 L785.5 253.2 L787.5 251.8 L790.5 250.5 L792.5 249.1 L795.5 247.8 L798.5 246.4 L800.5 245.1 L803.5 243.2 L805.5 240.2 L808.5 236.8 L810.5 231.2 L813.5 225.5 L816.5 219.8 L818.5 216 L821.5 213.3 L823.5 210.8 L826.5 209 L828.5 207.9 L831.5 207.7 L834.5 207.9 L836.5 208.1 L839.5 208.5 L841.5 208.9 L844.5 208.3 L847.5 206.9 L849.5 204.3 L852.5 202.4 L854.5 200.9 L857.5 200.6 L859.5 201 L862.5 202 L865.5 203.2 L867.5 204.6 L870.5 205.9 L872.5 207.5 L875.5 208.9 L877.5 210.1 L880.5 210.3 L883.5 209.9 L885.5 209 L888.5 208.1 L890.5 206.9 L893.5 205.4 L896.5 204.2 L898.5 204.4 L901.5 205.5 L903.5 207.5 L906.5 208.9 L908.5 210 L911.5 210.5 L914.5 211.4 L916.5 213.4 L919.5 215.9 L921.5 217.6 L924.5 217.7 L926.5 216.7 L929.5 215.9 L932.5 215.3 L934.5 215.1 L937.5 215.2 L939.5 215.3 L942.5 215.4 L944.5 215.1 L947.5 214 L950.5 212.2 L952.5 209.8 L955.5 207.5 L957.5 204.9 L960.5 202.2 L963.5 199.7 L965.5 197.4 L968.5 195.6 L970.5 193.6 L973.5 191.9 L975.5 190 L978.5 188.2 L981.5 186.5 L983.5 185.2 L986.5 184.8 L988.5 185.3 L991.5 186.3 L993.5 187.5 L996.5 188.8 L999.5 190.1 L1001.5 191.3 L1004.5 191.9 L1006.5 191.9 L1009.5 191.4 L1012.5 190.9 L1014.5 190.3 L1017.5 189.9 L1019.5 189.4 L1022.5 189 L1024.5 188.6 L1027.5 188.1 L1030.5 187.5 L1032.5 186.3 L1035.5 184.8 L1037.5 182.8 L1040.5 181 L1042.5 178.8 L1045.5 176.5 L1048.5 174.2 L1050.5 171.5 L1053.5 168.7 L1055.5 165.2 L1058.5 161.4 L1061.5 157.7 L1063.5 154.9 L1066.5 153.4 L1068.5 152.5 L1071.5 151.9 L1073.5 151.2 L1076.5 150.6 L1079.5 150.1 L1081.5 149.8 L1084.5 149.4 L1086.5 149 L1089.5 148.6 L1091.5 147.9 L1094.5 147.1 L1097.5 146.3 L1099.5 145.3 L1102.5 144 L1104.5 142.1 L1107.5 140 L1109.5 137.8 L1112.5 136 L1115.5 134.3 L1117.5 133.8 L1120.5 134 L1122.5 134.9 L1125.5 134.9 L1128.5 133.9 L1130.5 131.5 L1133.5 129.1 L1135.5 126.7 L1138.5 125.1 L1140.5 123.6 L1143.5 122.9 L1146.5 122.8 L1148.5 123.4 L1151.5 124.6 L1153.5 127 L1156.5 130 L1158.5 134.2 L1161.5 138.8 L1164.5 143.8 L1166.5 148.9 L1169.5 152.8 L1171.5 156.8 L1174.5 160.1 L1177.5 161.9 L1179.5 160.8 L1182.5 158.1 L1184.5 155.1 L1187.5 153 L1189.5 151 L1192.5 149.3 L1195.5 147.9 L1197.5 146.5 L1200.5 145.5 L1202.5 145.2 L1205.5 145.7 L1207.5 146.7 L1210.5 147.6 L1213.5 148.3 L1215.5 148.7 L1218.5 148.8 L1220.5 149 L1223.5 149.2 L1226.5 149.4 L1228.5 149.7 L1231.5 150 L1233.5 150.4 L1236.5 150.8 L1238.5 151.3 L1241.5 151.9 L1244.5 152.6 L1246.5 153.4 L1249.5 154.1 L1251.5 154.9 L1254.5 155.6 L1256.5 156.4 L1259.5 157.2 L1262.5 158 L1264.5 158.7 L1267.5 159.1 L1269.5 159.4 L1272.5 159.7 L1274.5 159.9 L1277.5 159.8 L1280.5 159.4 L1282.5 158.4 L1285.5 157.6 L1287.5 156.1 L1290.5 154.2 L1293.5 152 L1295.5 149.7 L1298.5 147.7 L1300.5 145.6 L1303.5 143.9 L1305.5 142 L1308.5 140.7 L1311.5 139.7 L1313.5 139.3 L1316.5 138.9 L1318.5 138.3 L1321.5 137.1 L1323.5 135.2 L1326.5 132.7 L1329.5 130.3 L1331.5 128.1 L1334.5 126.2 L1336.5 124.2 L1339.5 122.2 L1342.5 120.2 L1344.5 118.2 L1347.5 116.5 L1349.5 114.7 L1352.5 113.2 L1354.5 111.8 L1357.5 110.5 L1360.5 109.5 L1362.5 109 L1365.5 109 L1367.5 109.7 L1370.5 110.9 L1372.5 112.1 L1375.5 111.7 L1378.5 110.6 L1380.5 109.6 L1383.5 109.8 L1385.5 109.8 L1388.5 109.3 L1391.5 108.5 L1393.5 107.8 L1396.5 107.4 L1398.5 107.2 L1401.5 107.2 L1403.5 107.2 L1406.5 107.2 L1409.5 107.2 L1411.5 107.1 L1414.5 106.9 L1416.5 106.8 L1419.5 106.7 L1421.5 106.7 L1424.5 107 L1427.5 107.5 L1429.5 108.2 L1432.5 108.6 L1434.5 108.7 L1437.5 108.4 L1440.5 108.1" fill="none" stroke="#2a5fd9" stroke-width="1.2" stroke-linejoin="round"/>
<path d="M57 294.4 L60.5 293.9 L63.5 293.4 L65.5 292.7 L68.5 291.9 L71.5 291.2 L73.5 290.7 L76.5 291 L78.5 292.1 L81.5 293.5 L83.5 295.2 L86.5 296.9 L89.5 298.7 L91.5 300.4 L94.5 302 L96.5 303.5 L99.5 304.7 L101.5 305.6 L104.5 306.4 L107.5 307 L109.5 307.2 L112.5 306.9 L114.5 306.5 L117.5 306.2 L119.5 305.8 L122.5 305.4 L125.5 305.1 L127.5 304.7 L130.5 304.5 L132.5 304.2 L135.5 303.9 L138.5 303.6 L140.5 303.3 L143.5 303.1 L145.5 303.1 L148.5 303.2 L150.5 303.3 L153.5 303.4 L156.5 303.5 L158.5 303.6 L161.5 303.7 L163.5 303.7 L166.5 303.8 L168.5 303.8 L171.5 303.8 L174.5 303.8 L176.5 303.8 L179.5 303.8 L181.5 304.2 L184.5 304.8 L187.5 305.4 L189.5 306.4 L192.5 307.5 L194.5 309.1 L197.5 310.6 L199.5 312.4 L202.5 313.9 L205.5 315.1 L207.5 315.9 L210.5 316.5 L212.5 317.3 L215.5 317.9 L217.5 318.6 L220.5 319.1 L223.5 319.6 L225.5 320.1 L228.5 320.4 L230.5 320.9 L233.5 321.6 L236.5 322.5 L238.5 323.6 L241.5 324.5 L243.5 325.6 L246.5 326.6 L248.5 327.9 L251.5 329.2 L254.5 330.6 L256.5 333.2 L259.5 337.2 L261.5 344 L264.5 350.8 L266.5 358.2 L269.5 365 L272.5 371.7 L274.5 378.2 L277.5 383.8 L279.5 390.1 L282.5 395.8 L284.5 402.6 L287.5 408.7 L290.5 413.9 L292.5 417.7 L295.5 420.6 L297.5 423.8 L300.5 425.7 L303.5 426.4 L305.5 425.1 L308.5 422.7 L310.5 419.4 L313.5 416.6 L315.5 414 L318.5 412.6 L321.5 412 L323.5 412.5 L326.5 413.1 L328.5 413.7 L331.5 414.3 L333.5 413.8 L336.5 411.9 L339.5 409.2 L341.5 406.2 L344.5 403.8 L346.5 400.4 L349.5 395.5 L352.5 389.6 L354.5 383.9 L357.5 380.1 L359.5 377.2 L362.5 375.9 L364.5 375.3 L367.5 375.6 L370.5 375.9 L372.5 376.4 L375.5 376.8 L377.5 377.5 L380.5 378.1 L382.5 378.8 L385.5 378.9 L388.5 378.5 L390.5 377.6 L393.5 376.7 L395.5 375.6 L398.5 373.3 L401.5 370.2 L403.5 366.2 L406.5 362.8 L408.5 359.4 L411.5 356.8 L413.5 354.2 L416.5 351.8 L419.5 349.7 L421.5 348.1 L424.5 346.9 L426.5 345.8 L429.5 345.1 L431.5 344.8 L434.5 344.6 L437.5 344.4 L439.5 344.3 L442.5 344.2 L444.5 344.1 L447.5 343.9 L449.5 344 L452.5 344.5 L455.5 345.3 L457.5 346.3 L460.5 347.2 L462.5 348.4 L465.5 349.6 L468.5 350.3 L470.5 350.2 L473.5 349.4 L475.5 348.4 L478.5 347.8 L480.5 347.3 L483.5 347 L486.5 346.7 L488.5 346.5 L491.5 346.4 L493.5 346.4 L496.5 346.5 L498.5 346.6 L501.5 346.8 L504.5 347.1 L506.5 348.4 L509.5 350.5 L511.5 353.3 L514.5 356 L517.5 358.5 L519.5 360.5 L522.5 361.8 L524.5 362.9 L527.5 363.4 L529.5 363.5 L532.5 363.3 L535.5 363.1 L537.5 362.9 L540.5 362.7 L542.5 362.5 L545.5 362.4 L547.5 362.1 L550.5 361.9 L553.5 361.7 L555.5 361.5 L558.5 360.9 L560.5 359.7 L563.5 357.9 L566.5 355.9 L568.5 353.8 L571.5 351.8 L573.5 349.9 L576.5 348.7 L578.5 347.8 L581.5 347.2 L584.5 346.6 L586.5 345.7 L589.5 344.7 L591.5 343.3 L594.5 342.2 L596.5 340.8 L599.5 339.4 L602.5 338 L604.5 336.4 L607.5 334.9 L609.5 333.4 L612.5 332.3 L614.5 331.4 L617.5 330.5 L620.5 329.8 L622.5 328.9 L625.5 328.3 L627.5 327.8 L630.5 327.3 L633.5 326.9 L635.5 326.5 L638.5 326.2 L640.5 325.8 L643.5 325.4 L645.5 325.1 L648.5 324.8 L651.5 324.6 L653.5 324.3 L656.5 324.2 L658.5 323.9 L661.5 323.7 L663.5 323.5 L666.5 323.3 L669.5 323.1 L671.5 322.8 L674.5 322.6 L676.5 322 L679.5 321.1 L682.5 320 L684.5 319 L687.5 318.1 L689.5 317.2 L692.5 316.6 L694.5 316 L697.5 315.3 L700.5 314.9 L702.5 314.7 L705.5 314.8 L707.5 315 L710.5 315.1 L712.5 315.3 L715.5 315.6 L718.5 316.1 L720.5 316.8 L723.5 317.5 L725.5 318.2 L728.5 318.5 L731.5 318.2 L733.5 317.3 L736.5 316.1 L738.5 314.8 L741.5 313.6 L743.5 312.1 L746.5 310.5 L749.5 309 L751.5 307.4 L754.5 306.1 L756.5 304.5 L759.5 303.2 L761.5 301.6 L764.5 300 L767.5 298.5 L769.5 297 L772.5 295.7 L774.5 294.3 L777.5 293.2 L779.5 291.8 L782.5 290.5 L785.5 289.1 L787.5 287.6 L790.5 286.2 L792.5 284.6 L795.5 283.1 L798.5 281.6 L800.5 280.5 L803.5 279.7 L805.5 279 L808.5 278.6 L810.5 278.3 L813.5 277.8 L816.5 277.1 L818.5 276.1 L821.5 275 L823.5 273.5 L826.5 272.1 L828.5 270.4 L831.5 268 L834.5 265.2 L836.5 261.7 L839.5 259.1 L841.5 256.6 L844.5 256.8 L847.5 258.6 L849.5 263.2 L852.5 267.6 L854.5 271.7 L857.5 274.1 L859.5 275.5 L862.5 276.5 L865.5 277.3 L867.5 277.7 L870.5 277.6 L872.5 277.3 L875.5 277 L877.5 276.7 L880.5 276.5 L883.5 276.4 L885.5 276.5 L888.5 276.6 L890.5 276.7 L893.5 276.8 L896.5 275.7 L898.5 272.6 L901.5 268 L903.5 262.4 L906.5 257.4 L908.5 252.2 L911.5 247.6 L914.5 243.5 L916.5 239.2 L919.5 235.3 L921.5 232.4 L924.5 231.2 L926.5 231.2 L929.5 231.2 L932.5 231.3 L934.5 231.3 L937.5 231.4 L939.5 231.5 L942.5 231.7 L944.5 231.8 L947.5 232 L950.5 232.5 L952.5 233.1 L955.5 233.8 L957.5 234.5 L960.5 234.8 L963.5 234.9 L965.5 234.8 L968.5 234.7 L970.5 234.6 L973.5 234.4 L975.5 234 L978.5 233.3 L981.5 232.6 L983.5 231.9 L986.5 230.6 L988.5 228.1 L991.5 225 L993.5 221.5 L996.5 217.9 L999.5 214.4 L1001.5 212 L1004.5 211 L1006.5 210.7 L1009.5 210.4 L1012.5 210.2 L1014.5 210 L1017.5 209.9 L1019.5 209.8 L1022.5 209.6 L1024.5 209.5 L1027.5 209.4 L1030.5 209.4 L1032.5 209.6 L1035.5 210.1 L1037.5 210.7 L1040.5 211.2 L1042.5 211.2 L1045.5 210.5 L1048.5 209.4 L1050.5 208.5 L1053.5 208 L1055.5 207.7 L1058.5 207.4 L1061.5 207.2 L1063.5 206.5 L1066.5 205.4 L1068.5 203.6 L1071.5 202 L1073.5 199.8 L1076.5 197.1 L1079.5 194.2 L1081.5 191.2 L1084.5 188.8 L1086.5 186.3 L1089.5 184.2 L1091.5 181.9 L1094.5 180 L1097.5 178.3 L1099.5 176.8 L1102.5 175.6 L1104.5 174.7 L1107.5 174.3 L1109.5 174.1 L1112.5 174 L1115.5 173.6 L1117.5 172.3 L1120.5 170.6 L1122.5 168.5 L1125.5 168.1 L1128.5 169.9 L1130.5 176 L1133.5 182.3 L1135.5 188.7 L1138.5 192.6 L1140.5 196.7 L1143.5 200.5 L1146.5 204 L1148.5 206.8 L1151.5 208.8 L1153.5 210.6 L1156.5 211.8 L1158.5 212.4 L1161.5 211.6 L1164.5 209.9 L1166.5 207.6 L1169.5 205.8 L1171.5 203.8 L1174.5 202.1 L1177.5 201.1 L1179.5 201.1 L1182.5 201.8 L1184.5 202.3 L1187.5 202.5 L1189.5 202.3 L1192.5 201.5 L1195.5 200.1 L1197.5 198.1 L1200.5 196.3 L1202.5 194.2 L1205.5 192.4 L1207.5 190.4 L1210.5 188.4 L1213.5 186.8 L1215.5 185.6 L1218.5 184.8 L1220.5 184.2 L1223.5 183.9 L1226.5 183.8 L1228.5 183.7 L1231.5 183.6 L1233.5 183.4 L1236.5 183.3 L1238.5 183.1 L1241.5 183 L1244.5 182.8 L1246.5 182.5 L1249.5 182.1 L1251.5 181.6 L1254.5 181.1 L1256.5 180.1 L1259.5 178.7 L1262.5 177.2 L1264.5 175.6 L1267.5 174.1 L1269.5 172.4 L1272.5 171.1 L1274.5 170.4 L1277.5 170.2 L1280.5 170.2 L1282.5 170.5 L1285.5 171 L1287.5 171.8 L1290.5 172.7 L1293.5 173.4 L1295.5 174 L1298.5 174.4 L1300.5 174.8 L1303.5 175 L1305.5 175 L1308.5 174.8 L1311.5 174.6 L1313.5 173.8 L1316.5 172.7 L1318.5 171.2 L1321.5 169.8 L1323.5 168.2 L1326.5 166.5 L1329.5 164.9 L1331.5 163.6 L1334.5 162.6 L1336.5 161.6 L1339.5 160.7 L1342.5 159.9 L1344.5 159.2 L1347.5 158.6 L1349.5 157.8 L1352.5 156.8 L1354.5 155.6 L1357.5 154.2 L1360.5 152.5 L1362.5 150 L1365.5 147.3 L1367.5 143.7 L1370.5 140.1 L1372.5 136.7 L1375.5 134.7 L1378.5 133.5 L1380.5 132.6 L1383.5 131.9 L1385.5 131 L1388.5 130.5 L1391.5 130.6 L1393.5 131.7 L1396.5 133.2 L1398.5 134.7 L1401.5 135.5 L1403.5 135.9 L1406.5 135.9 L1409.5 135.8 L1411.5 135.7 L1414.5 135.4 L1416.5 134.9 L1419.5 134.4 L1421.5 133.9 L1424.5 133.6 L1427.5 133.5 L1429.5 133.5 L1432.5 133.5 L1434.5 133.6 L1437.5 133.8 L1440.5 133.9" fill="none" stroke="#2a5fd9" stroke-width="1.2" stroke-linejoin="round"/>
<path d="M60.5 281.8V285.1M63.5 280.8V285.5M78.5 288.9V291.3M86.5 293.3V295.6M99.5 297.5V300.9M104.5 300V301.3M107.5 299.5V302.1M109.5 297.6V300.3M114.5 299.7V301.9M122.5 300.3V304M125.5 298.6V301.8M130.5 298.6V301.6M135.5 300.1V303.3M138.5 297.9V301.6M143.5 298.5V303.1M148.5 298.1V302.5M153.5 297.9V301.5M158.5 301.5V303.6M161.5 300.6V302.4M166.5 299.9V304.2M168.5 297.8V303.4M171.5 295.8V301.7M174.5 293V298.6M176.5 294.3V296.1M184.5 292.1V299.5M187.5 287.8V296.9M197.5 309V316.9M199.5 309.4V311.9M202.5 307.9V313.1M205.5 305.9V311.6M210.5 305.8V310M215.5 307.4V309.6M217.5 305.6V309.4M225.5 309.2V312.7M228.5 308.3V310.3M230.5 307.6V308.8M243.5 325.7V330.5M246.5 325.4V328M251.5 326.5V328.7M254.5 324.3V327M256.5 321.6V330.1M274.5 374V380M290.5 396.5V403.7M292.5 397V400.5M295.5 393.8V398.9M303.5 398.1V408.6M305.5 388.1V399.5M308.5 391.2V399M310.5 381.3V398.3M313.5 370.7V384.3M315.5 371V379.6M318.5 368.6V373.2M326.5 361.3V371.2M331.5 357.6V366.5M341.5 363V368.6M344.5 363.5V367.6M354.5 363.9V369.2M357.5 364.1V368.9M359.5 364.2V370.3M362.5 355.3V364.3M364.5 350.5V359.7M367.5 351.6V354.5M370.5 344.9V353.2M372.5 342.7V346.8M377.5 343.6V347.8M385.5 336.9V344M388.5 334.5V345.1M390.5 337.1V341.2M393.5 334.7V339.6M395.5 331.6V336.9M398.5 331.8V334.4M401.5 329.3V334.3M406.5 327.3V332.9M408.5 325.9V329.1M413.5 321.7V328.2M416.5 321.1V326.4M421.5 320.7V323.9M426.5 316.5V324.7M439.5 334.9V338.8M442.5 334.6V338M444.5 331.5V337.4M449.5 330.8V332.9M462.5 342.7V347.1M468.5 340.7V344.7M470.5 339.2V345.1M473.5 333V341.1M480.5 327.8V335M488.5 329V333.5M493.5 327.9V331.7M504.5 333.4V337.5M517.5 357.1V365.6M519.5 352.9V362M524.5 344.2V361.4M527.5 344.5V350.2M529.5 341.8V348.7M535.5 341V349.2M537.5 336.6V341.8M540.5 337.1V341.5M545.5 337.3V340.7M553.5 338V340M558.5 334.8V342.2M560.5 324.9V339.6M566.5 326.8V337.8M571.5 328V330.6M573.5 326.9V332.1M576.5 321.5V332.2M581.5 320.1V324.9M594.5 325V327.8M596.5 323.6V326M602.5 321.3V323.5M607.5 322V325.2M609.5 320.6V326.2M614.5 317.9V324.8M617.5 317.8V320.1M627.5 316.6V318.9M633.5 316.6V319.2M638.5 314.5V318.8M643.5 315.5V318.4M645.5 311.7V316.1M648.5 310.2V314.2M653.5 309.4V313.1M656.5 305.6V314.2M661.5 305.9V308.5M669.5 306.1V310M671.5 303.1V308.5M674.5 298.3V304.8M687.5 311.1V320.5M689.5 310.9V313.3M692.5 306.4V313.7M697.5 306.3V312.8M700.5 304.5V308.3M702.5 299.7V309.1M707.5 301.3V303.9M715.5 298.3V305.3M718.5 295.4V302.1M720.5 292.6V303.5M723.5 289.6V294M728.5 287.6V292.3M731.5 286.8V289.5M733.5 285.8V291.8M736.5 281.1V287.8M743.5 283.4V287.2M746.5 279.6V284.6M751.5 275.9V281.3M754.5 277.2V280.1M756.5 275.6V278.4M761.5 270.5V276.9M764.5 267.8V279.3M767.5 266.2V272.3M769.5 266.9V270.1M772.5 264.8V268.3M777.5 259.2V265.3M782.5 257.9V263.3M785.5 256.3V260.7M787.5 256.1V259.8M790.5 254.7V258.6M792.5 251.9V258.7M795.5 249.9V256.5M800.5 244.8V255.7M803.5 239.7V246.3M808.5 230.5V245.1M810.5 227.2V241.8M813.5 225.9V238M816.5 213.8V227.9M826.5 211.9V221M836.5 228V240M839.5 225.7V230.9M854.5 258.5V281M857.5 252.6V264.2M859.5 247.2V259.8M862.5 241.9V252.7M870.5 236.3V255.8M872.5 230.2V242M877.5 224.3V237.2M880.5 221.2V224.6M890.5 222.9V232.9M893.5 210.3V234.4M898.5 218.5V223.9M901.5 220.7V223.7M911.5 224.3V234.3M914.5 221.7V224.4M916.5 219.3V224.8M919.5 219.6V220.8M924.5 216.9V222.3M929.5 215.2V218.2M939.5 226.3V232.1M942.5 224.7V229.1M944.5 222.1V230.6M947.5 218.3V227.6M950.5 214.6V218.5M952.5 207.7V218.5M955.5 206V215.4M957.5 202.8V207.9M960.5 200.2V205.5M968.5 196.3V204.1M970.5 193.6V200.5M983.5 186.7V199.2M986.5 187.4V192.1M999.5 204.8V213.7M1001.5 196.9V209.3M1004.5 199.5V202.4M1006.5 196.6V199.2M1009.5 196.1V198.1M1012.5 195.4V197.8M1017.5 189.7V200.1M1024.5 192.5V196.3M1027.5 192.1V193.8M1030.5 190V194.4M1035.5 186.2V197.6M1037.5 186.6V190.2M1040.5 183.1V193.3M1042.5 177.9V186.5M1045.5 173.4V179.3M1048.5 174.2V177.4M1050.5 168.5V174.3M1053.5 166.1V171.2M1055.5 168V172.2M1058.5 163.6V172.5M1061.5 158.7V168.9M1063.5 157.5V161.2M1071.5 166.7V172M1073.5 166.7V170.7M1076.5 155.2V173.1M1081.5 158.3V163.4M1089.5 155.5V169.4M1091.5 150.6V158.2M1097.5 149.7V153.5M1102.5 143.8V153.7M1104.5 136.4V150.9M1109.5 138.9V145.7M1112.5 136.9V142.3M1115.5 136.8V141.5M1122.5 152.9V158.7M1140.5 172.2V191.5M1146.5 189.1V198.1M1148.5 189.1V191M1151.5 185.3V189.9M1158.5 184.4V190M1164.5 179.5V189.2M1166.5 176.4V184.3M1169.5 170.6V181.1M1174.5 166V174.1M1177.5 165.6V172M1179.5 161.7V172.2M1182.5 157.4V166.6M1187.5 158.2V160.7M1195.5 156.7V161.2M1202.5 154.6V162.5M1213.5 180V182M1218.5 167V186M1220.5 166V174.7M1223.5 165.3V176M1226.5 166.3V169.4M1228.5 161.8V168.5M1238.5 160.9V168M1246.5 162.2V166.6M1249.5 162.4V164.8M1251.5 156.7V166.2M1254.5 157.9V159.7M1262.5 161.1V164.8M1264.5 157.5V167M1269.5 166.1V172.4M1272.5 166.6V172.5M1274.5 163.3V167.5M1280.5 160.1V167.9M1282.5 158.9V167.8M1287.5 157.3V165.9M1290.5 144.1V166.6M1295.5 145.7V148.7M1300.5 147.2V149.3M1308.5 144.5V150M1321.5 146.6V155.1M1323.5 140.7V154.3M1326.5 130.5V141.1M1329.5 132.5V136.7M1331.5 128.7V134.2M1334.5 125.7V130.3M1339.5 128.5V136.9M1342.5 123.3V133M1344.5 120.8V125.4M1352.5 120.1V125.5M1357.5 118.7V124.4M1365.5 118.6V123.7M1375.5 109.1V130.3M1378.5 104.1V115.5M1388.5 115.2V119.3M1391.5 112.1V117.3M1398.5 125V133.8M1401.5 122V132.8M1406.5 118.5V129M1409.5 116.5V119.4M1416.5 117.7V120.2M1419.5 114.5V119.7M1424.5 113.6V118.3M1434.5 111.6V122M1440.5 111.6V116.8" stroke="#4caf50" stroke-width="1" fill="none"/>
<path d="M59.3 282.6h2.4v1h-2.4zM62.3 280.8h2.4v2.7h-2.4zM77.3 289h2.4v1.8h-2.4zM85.3 293.5h2.4v1h-2.4zM98.3 299.6h2.4v1h-2.4zM103.3 300.1h2.4v1.1h-2.4zM106.3 299.6h2.4v1h-2.4zM108.3 298h2.4v1.1h-2.4zM113.3 300.3h2.4v1.5h-2.4zM121.3 301.1h2.4v1.8h-2.4zM124.3 299.9h2.4v1.7h-2.4zM129.3 299h2.4v1.7h-2.4zM134.3 300.5h2.4v2.5h-2.4zM137.3 300.1h2.4v1h-2.4zM142.3 299h2.4v2.9h-2.4zM147.3 298.4h2.4v2.8h-2.4zM152.3 299h2.4v1h-2.4zM157.3 302.4h2.4v1h-2.4zM160.3 300.8h2.4v1.3h-2.4zM165.3 300.2h2.4v2.2h-2.4zM167.3 300.5h2.4v1h-2.4zM170.3 298.2h2.4v2.4h-2.4zM173.3 295.7h2.4v2h-2.4zM175.3 294.5h2.4v1.2h-2.4zM183.3 293.4h2.4v4.9h-2.4zM186.3 290.6h2.4v3.8h-2.4zM196.3 311.4h2.4v2.2h-2.4zM198.3 310.1h2.4v1.8h-2.4zM201.3 308.6h2.4v1.5h-2.4zM204.3 307h2.4v2.2h-2.4zM209.3 307.7h2.4v1.3h-2.4zM214.3 307.7h2.4v1h-2.4zM216.3 306.5h2.4v1.6h-2.4zM224.3 309.3h2.4v2.1h-2.4zM227.3 308.4h2.4v1h-2.4zM229.3 307.6h2.4v1h-2.4zM242.3 327.1h2.4v2.2h-2.4zM245.3 326.5h2.4v1.5h-2.4zM250.3 326.5h2.4v1.5h-2.4zM253.3 325.6h2.4v1.1h-2.4zM255.3 327.4h2.4v1h-2.4zM273.3 375.9h2.4v1.9h-2.4zM289.3 399.7h2.4v2.4h-2.4zM291.3 397.8h2.4v2.6h-2.4zM294.3 394.8h2.4v2.5h-2.4zM302.3 399.3h2.4v6.7h-2.4zM304.3 395.6h2.4v3.3h-2.4zM307.3 393.5h2.4v2h-2.4zM309.3 383.1h2.4v12.3h-2.4zM312.3 374.9h2.4v7.9h-2.4zM314.3 372.8h2.4v2.7h-2.4zM317.3 369.4h2.4v2.5h-2.4zM325.3 364h2.4v4.9h-2.4zM330.3 360.4h2.4v5.3h-2.4zM340.3 365.2h2.4v3h-2.4zM343.3 364.9h2.4v1h-2.4zM353.3 367h2.4v1.6h-2.4zM356.3 366.5h2.4v1h-2.4zM358.3 364.6h2.4v3.6h-2.4zM361.3 356.7h2.4v6.8h-2.4zM363.3 350.8h2.4v6.2h-2.4zM366.3 352.5h2.4v1h-2.4zM369.3 346h2.4v6.6h-2.4zM371.3 344.3h2.4v2.2h-2.4zM376.3 345.1h2.4v1.3h-2.4zM384.3 341h2.4v2.4h-2.4zM387.3 337.9h2.4v4.5h-2.4zM389.3 337.8h2.4v1h-2.4zM392.3 335.8h2.4v1.8h-2.4zM394.3 333.9h2.4v1.1h-2.4zM397.3 333.1h2.4v1.1h-2.4zM400.3 331.8h2.4v1.4h-2.4zM405.3 329.2h2.4v1.8h-2.4zM407.3 327h2.4v1.4h-2.4zM412.3 324.5h2.4v3.7h-2.4zM415.3 321.7h2.4v2.8h-2.4zM420.3 322.5h2.4v1h-2.4zM425.3 320.7h2.4v1h-2.4zM438.3 336.5h2.4v1h-2.4zM441.3 335.9h2.4v1h-2.4zM443.3 332.2h2.4v3.2h-2.4zM448.3 331.2h2.4v1.5h-2.4zM461.3 343h2.4v3.3h-2.4zM467.3 342.3h2.4v1h-2.4zM469.3 339.9h2.4v2.2h-2.4zM472.3 333.3h2.4v5.8h-2.4zM479.3 329.2h2.4v5.2h-2.4zM487.3 330.3h2.4v2.1h-2.4zM492.3 329.2h2.4v1h-2.4zM503.3 336h2.4v1h-2.4zM516.3 359.2h2.4v2.9h-2.4zM518.3 354.8h2.4v6.3h-2.4zM523.3 350.4h2.4v6.4h-2.4zM526.3 347.6h2.4v2.2h-2.4zM528.3 345.1h2.4v1.5h-2.4zM534.3 342.4h2.4v3.7h-2.4zM536.3 339h2.4v2.2h-2.4zM539.3 338.4h2.4v1h-2.4zM544.3 337.5h2.4v2.9h-2.4zM552.3 338.5h2.4v1.3h-2.4zM557.3 336.6h2.4v3.3h-2.4zM559.3 330.4h2.4v4.8h-2.4zM565.3 327.1h2.4v7.3h-2.4zM570.3 329.3h2.4v1h-2.4zM572.3 327.7h2.4v2.4h-2.4zM575.3 322h2.4v6.5h-2.4zM580.3 320.2h2.4v4.6h-2.4zM593.3 326.1h2.4v1h-2.4zM595.3 323.9h2.4v1.7h-2.4zM601.3 322.1h2.4v1h-2.4zM606.3 323.3h2.4v1h-2.4zM608.3 321.6h2.4v1.4h-2.4zM613.3 318.8h2.4v3.8h-2.4zM616.3 317.9h2.4v1h-2.4zM626.3 317.6h2.4v1.3h-2.4zM632.3 316.7h2.4v1.8h-2.4zM637.3 315.1h2.4v2.3h-2.4zM642.3 315.8h2.4v1h-2.4zM644.3 313.6h2.4v2.4h-2.4zM647.3 312.9h2.4v1h-2.4zM652.3 309.8h2.4v3h-2.4zM655.3 306.9h2.4v4.3h-2.4zM660.3 306.6h2.4v1h-2.4zM668.3 307.2h2.4v1h-2.4zM670.3 303.6h2.4v3.5h-2.4zM673.3 299.2h2.4v4.4h-2.4zM686.3 312.3h2.4v3.8h-2.4zM688.3 311.5h2.4v1.6h-2.4zM691.3 307h2.4v4.6h-2.4zM696.3 306.9h2.4v3.4h-2.4zM699.3 305.7h2.4v1h-2.4zM701.3 302h2.4v3.1h-2.4zM706.3 301.7h2.4v1h-2.4zM714.3 299.4h2.4v2.4h-2.4zM717.3 298.2h2.4v1.2h-2.4zM719.3 293.4h2.4v5.7h-2.4zM722.3 290.1h2.4v3.6h-2.4zM727.3 289h2.4v1h-2.4zM730.3 288.4h2.4v1h-2.4zM732.3 287h2.4v1.8h-2.4zM735.3 283.1h2.4v3.9h-2.4zM742.3 284.1h2.4v2.5h-2.4zM745.3 280.6h2.4v3h-2.4zM750.3 277.8h2.4v2.5h-2.4zM753.3 277.9h2.4v1h-2.4zM755.3 276h2.4v2h-2.4zM760.3 274.3h2.4v1.5h-2.4zM763.3 269.7h2.4v4.4h-2.4zM766.3 268.7h2.4v1.2h-2.4zM768.3 267.3h2.4v1.4h-2.4zM771.3 265h2.4v2.2h-2.4zM776.3 259.6h2.4v5.4h-2.4zM781.3 258.1h2.4v4.6h-2.4zM784.3 257.5h2.4v1.1h-2.4zM786.3 257.4h2.4v1h-2.4zM789.3 256.7h2.4v1.6h-2.4zM791.3 255.9h2.4v1h-2.4zM794.3 251.9h2.4v3.9h-2.4zM799.3 246.8h2.4v5.3h-2.4zM802.3 242h2.4v2.2h-2.4zM807.3 236.7h2.4v7.5h-2.4zM809.3 230.2h2.4v8h-2.4zM812.3 226.8h2.4v3.4h-2.4zM815.3 218.1h2.4v7.9h-2.4zM825.3 216.3h2.4v2.6h-2.4zM835.3 229.6h2.4v6.7h-2.4zM838.3 226.2h2.4v2.8h-2.4zM853.3 261.8h2.4v16.3h-2.4zM856.3 252.8h2.4v9.1h-2.4zM858.3 248.1h2.4v7.5h-2.4zM861.3 243.1h2.4v6.6h-2.4zM869.3 240.7h2.4v12.8h-2.4zM871.3 231.6h2.4v8.1h-2.4zM876.3 224.6h2.4v12.3h-2.4zM879.3 222.8h2.4v1.4h-2.4zM889.3 227h2.4v2.6h-2.4zM892.3 218h2.4v8.7h-2.4zM897.3 221.3h2.4v1h-2.4zM900.3 221.5h2.4v1h-2.4zM910.3 225.1h2.4v4.1h-2.4zM913.3 222.8h2.4v1.1h-2.4zM915.3 221.1h2.4v1h-2.4zM918.3 219.6h2.4v1h-2.4zM923.3 217.3h2.4v3.7h-2.4zM928.3 215.5h2.4v2.1h-2.4zM938.3 227.9h2.4v3.8h-2.4zM941.3 226.5h2.4v2.5h-2.4zM943.3 224.5h2.4v2.4h-2.4zM946.3 219.2h2.4v4.2h-2.4zM949.3 215.9h2.4v2.3h-2.4zM951.3 212.4h2.4v5.6h-2.4zM954.3 207.4h2.4v5.6h-2.4zM956.3 204.6h2.4v3.1h-2.4zM959.3 200.6h2.4v4.4h-2.4zM967.3 198.2h2.4v4.4h-2.4zM969.3 193.7h2.4v3.1h-2.4zM982.3 190.6h2.4v6.8h-2.4zM985.3 189h2.4v1.4h-2.4zM998.3 205.5h2.4v6.3h-2.4zM1000.3 202.2h2.4v2.9h-2.4zM1003.3 199.5h2.4v1.9h-2.4zM1005.3 197.3h2.4v1.7h-2.4zM1008.3 196.6h2.4v1h-2.4zM1011.3 196.3h2.4v1h-2.4zM1016.3 190.8h2.4v7.1h-2.4zM1023.3 192.5h2.4v1.8h-2.4zM1026.3 192.6h2.4v1h-2.4zM1029.3 192.1h2.4v1.2h-2.4zM1034.3 189.3h2.4v6.1h-2.4zM1036.3 188.2h2.4v1h-2.4zM1039.3 184.9h2.4v3.2h-2.4zM1041.3 179.1h2.4v4.6h-2.4zM1044.3 176.9h2.4v1.9h-2.4zM1047.3 174.3h2.4v2.7h-2.4zM1049.3 168.7h2.4v5.5h-2.4zM1052.3 168h2.4v1.5h-2.4zM1054.3 168.6h2.4v1.7h-2.4zM1057.3 164h2.4v6.4h-2.4zM1060.3 160.9h2.4v2.8h-2.4zM1062.3 158.5h2.4v1.9h-2.4zM1070.3 169.2h2.4v1h-2.4zM1072.3 169.1h2.4v1h-2.4zM1075.3 158.8h2.4v10.6h-2.4zM1080.3 159.4h2.4v2.2h-2.4zM1088.3 157h2.4v7.5h-2.4zM1090.3 153.3h2.4v4.4h-2.4zM1096.3 150.3h2.4v2.6h-2.4zM1101.3 148.8h2.4v3h-2.4zM1103.3 141.8h2.4v8.5h-2.4zM1108.3 140h2.4v5.2h-2.4zM1111.3 140.5h2.4v1h-2.4zM1114.3 137.6h2.4v3.4h-2.4zM1121.3 153.6h2.4v1h-2.4zM1139.3 174.8h2.4v10.7h-2.4zM1145.3 189.2h2.4v4.1h-2.4zM1147.3 189.3h2.4v1h-2.4zM1150.3 186h2.4v3.7h-2.4zM1157.3 184.8h2.4v4.3h-2.4zM1163.3 181.2h2.4v5.8h-2.4zM1165.3 178.4h2.4v4.3h-2.4zM1168.3 172.6h2.4v6h-2.4zM1173.3 168.5h2.4v3.9h-2.4zM1176.3 166.8h2.4v2.4h-2.4zM1178.3 164.7h2.4v2.8h-2.4zM1181.3 159.2h2.4v5.2h-2.4zM1186.3 158.7h2.4v1h-2.4zM1194.3 157.4h2.4v3.6h-2.4zM1201.3 154.9h2.4v5.9h-2.4zM1212.3 180.1h2.4v1h-2.4zM1217.3 169.4h2.4v12h-2.4zM1219.3 170h2.4v2.2h-2.4zM1222.3 167.6h2.4v3.8h-2.4zM1225.3 166.5h2.4v2.6h-2.4zM1227.3 163.9h2.4v3.4h-2.4zM1237.3 161.6h2.4v6.2h-2.4zM1245.3 164.1h2.4v1h-2.4zM1248.3 162.6h2.4v1.9h-2.4zM1250.3 159.5h2.4v2.7h-2.4zM1253.3 158.4h2.4v1h-2.4zM1261.3 161.9h2.4v2.5h-2.4zM1263.3 160.4h2.4v2.8h-2.4zM1268.3 168.4h2.4v1.1h-2.4zM1271.3 167.3h2.4v2.4h-2.4zM1273.3 165.5h2.4v1.4h-2.4zM1279.3 164.8h2.4v2.4h-2.4zM1281.3 159.6h2.4v4.2h-2.4zM1286.3 160.1h2.4v1h-2.4zM1289.3 149.9h2.4v10.4h-2.4zM1294.3 146.1h2.4v2.3h-2.4zM1299.3 148.1h2.4v1h-2.4zM1307.3 146.2h2.4v2.4h-2.4zM1320.3 148.3h2.4v1.3h-2.4zM1322.3 141.1h2.4v8.7h-2.4zM1325.3 136.3h2.4v4.1h-2.4zM1328.3 132.6h2.4v3.8h-2.4zM1330.3 129.3h2.4v3.6h-2.4zM1333.3 127.8h2.4v1.9h-2.4zM1338.3 130.5h2.4v1.7h-2.4zM1341.3 124.4h2.4v6.3h-2.4zM1343.3 121.7h2.4v2.5h-2.4zM1351.3 122.1h2.4v2.6h-2.4zM1356.3 119.1h2.4v4.8h-2.4zM1364.3 119.1h2.4v1.9h-2.4zM1374.3 114.6h2.4v13.3h-2.4zM1377.3 106.2h2.4v8.3h-2.4zM1387.3 115.4h2.4v3.4h-2.4zM1390.3 113.4h2.4v2.5h-2.4zM1397.3 132h2.4v1.8h-2.4zM1400.3 123.4h2.4v7h-2.4zM1405.3 118.8h2.4v8.7h-2.4zM1408.3 116.6h2.4v1.4h-2.4zM1415.3 117.9h2.4v1.3h-2.4zM1418.3 116.1h2.4v2.3h-2.4zM1423.3 116.3h2.4v1h-2.4zM1433.3 114.4h2.4v6.2h-2.4zM1439.3 112.7h2.4v3h-2.4z" fill="#4aab4e"/>
<path d="M65.5 280.8V286M68.5 280.3V288.1M71.5 282.6V287.9M73.5 280.9V290.4M76.5 285.8V291.3M81.5 285.8V294.1M83.5 291.2V295.5M89.5 291.8V298.1M91.5 292.7V298.6M94.5 297.8V302.1M96.5 296.2V302.4M101.5 296.6V302.1M112.5 297.6V301.9M117.5 298V301.2M119.5 298.7V303M127.5 299.1V301.7M132.5 297.9V302.1M140.5 300.2V302.9M145.5 298.1V301.6M150.5 298.1V300.6M156.5 297.8V302.4M163.5 300.4V302.2M179.5 292.9V296.3M181.5 297.1V298.9M189.5 282.7V305.8M192.5 297.2V310.9M194.5 305.3V316.6M207.5 305.4V309M212.5 306.1V308.9M220.5 306.4V310M223.5 309.9V313.6M233.5 303.9V307.6M236.5 301.8V321.8M238.5 317.9V322.9M241.5 319.5V328.9M248.5 324.3V328.6M259.5 326.2V342.7M261.5 342V347.4M264.5 339.9V354.3M266.5 349.8V372.9M269.5 366V377.1M272.5 373.2V378.3M277.5 373.8V380.8M279.5 377.4V381.1M282.5 380.2V389.9M284.5 382V402M287.5 398.6V402.5M297.5 389.2V403.2M300.5 398.6V405M321.5 366.2V370.7M323.5 368.9V371.6M328.5 364.3V368.8M333.5 360.2V364.5M336.5 356.3V366.4M339.5 362.4V370M346.5 363V366.3M349.5 363V370.3M352.5 367.2V372.4M375.5 343.9V346.9M380.5 343.3V346.3M382.5 343V346.5M403.5 330.8V333.8M411.5 326.1V330.1M419.5 320.1V324.7M424.5 322.5V324.6M429.5 317.4V331.8M431.5 328.6V336.7M434.5 335.5V337.2M437.5 334.7V338.6M447.5 330.5V333.7M452.5 330.1V336.9M455.5 336.7V343.7M457.5 339.8V344.9M460.5 339.5V347.2M465.5 339.2V346.7M475.5 329.5V335.5M478.5 331.8V337.1M483.5 328.1V332.1M486.5 331V334.2M491.5 329V334M496.5 327.6V335M498.5 331.2V334.3M501.5 331V335.3M506.5 336.3V343.6M509.5 338.9V351.2M511.5 347.7V359.8M514.5 356.2V362M522.5 355.1V361.5M532.5 344.4V348.3M542.5 336.8V343M547.5 337.1V340.6M550.5 338.9V340.7M555.5 338.5V342.1M563.5 325.6V336.8M568.5 326.6V330.9M578.5 320.8V326.9M584.5 319.8V324.2M586.5 321.1V325.9M589.5 322.8V326.8M591.5 323.7V327.6M599.5 320.5V324.4M604.5 321.3V323.3M612.5 320.3V322M620.5 316.6V319.6M622.5 316.3V320.3M625.5 316.5V318.9M630.5 316.7V321.1M635.5 314V317.7M640.5 314.4V318.3M651.5 311.3V314.9M658.5 305.4V308.4M663.5 304.6V307.7M666.5 305.9V308.7M676.5 294.6V301.9M679.5 301.9V309M682.5 305.4V310.3M684.5 305V316.1M694.5 304V309.6M705.5 298.2V302.7M710.5 300.2V302.5M712.5 299.6V301.9M725.5 289.6V292.8M738.5 281.1V285.7M741.5 285.3V287M749.5 279.4V284.2M759.5 274.1V278.2M774.5 262.1V266.4M779.5 259V267.8M798.5 248.5V253.7M805.5 239.2V247.6M818.5 216V218.4M821.5 217.5V218.8M823.5 216V220M828.5 215.9V228.6M831.5 225.3V235.7M834.5 233.4V236.2M841.5 223V230.1M844.5 229.7V241.1M847.5 238.6V267.1M849.5 263.2V283.9M852.5 274.5V285.2M865.5 239.4V251.2M867.5 248.2V250.6M875.5 225.5V241.6M883.5 221.1V224.7M885.5 222V228M888.5 225V229.8M896.5 217.3V220.4M903.5 221V226.7M906.5 225.3V227.7M908.5 226.2V228.7M921.5 219.9V221.9M926.5 216.8V218.6M932.5 214.9V220.3M934.5 209.9V227.2M937.5 217.3V232.4M963.5 200.7V204.3M965.5 202.5V204.7M973.5 192.7V195.6M975.5 194.9V198.1M978.5 195.5V197.7M981.5 190.1V197.9M988.5 186.9V201M991.5 201.4V209.5M993.5 205V208.8M996.5 204.1V210.3M1014.5 194.6V202M1019.5 190.2V194M1022.5 191.1V195.1M1032.5 191.2V199M1066.5 154.6V165.6M1068.5 157.3V175.6M1079.5 157.5V162.6M1084.5 159.1V162.2M1086.5 158.6V166.5M1094.5 150.5V154.6M1099.5 146.4V155.6M1107.5 141.9V147.3M1117.5 138V143.3M1120.5 142.2V159.9M1125.5 145.2V155.6M1128.5 149V169.9M1130.5 168.3V180.2M1133.5 176.7V184.1M1135.5 177.7V184.6M1138.5 184V188.1M1143.5 174V193.4M1153.5 184.4V188M1156.5 185.7V191.4M1161.5 184.1V189.2M1171.5 172.7V177.3M1184.5 157.9V161M1189.5 156.2V160.1M1192.5 158.2V161.1M1197.5 156.5V158.4M1200.5 157.3V160.5M1205.5 154V166.8M1207.5 163.7V175.5M1210.5 172.2V184.1M1215.5 178.2V181.2M1231.5 161.3V166.3M1233.5 163.4V168.9M1236.5 166.4V168.2M1241.5 161.3V165.8M1244.5 162.3V165.6M1256.5 157.3V164.2M1259.5 163.9V166.6M1267.5 155.9V169.6M1277.5 163.8V167.6M1285.5 158.6V162.1M1293.5 145V149.6M1298.5 146.2V148.5M1303.5 145.7V149.9M1305.5 147.6V150.3M1311.5 144.7V148M1313.5 144.6V150.1M1316.5 147.7V150.6M1318.5 148.2V150.1M1336.5 127.5V130.9M1347.5 122.2V124.2M1349.5 122.9V124.9M1354.5 117.6V126.2M1360.5 117.9V121.7M1362.5 117.4V123.8M1367.5 117.8V127M1370.5 122.4V132.1M1372.5 128.2V131.6M1380.5 103V110.3M1383.5 103.5V109.3M1385.5 108.2V121.8M1393.5 108.1V120.7M1396.5 114.2V134.2M1403.5 117.9V130.1M1411.5 115.3V119.2M1414.5 117.9V119.1M1421.5 115.5V116.9M1427.5 116.1V119.1M1429.5 118.9V124M1432.5 118.7V120.4M1437.5 111.2V117.5" stroke="#ff0000" stroke-width="1" fill="none"/>
<path d="M64.3 280.9h2.4v1.7h-2.4zM67.3 281.7h2.4v3.2h-2.4zM70.3 284.6h2.4v1h-2.4zM72.3 284.6h2.4v3.3h-2.4zM75.3 287.8h2.4v2.4h-2.4zM80.3 288.1h2.4v5.8h-2.4zM82.3 292.7h2.4v1.4h-2.4zM88.3 293.4h2.4v2.3h-2.4zM90.3 295.8h2.4v2.2h-2.4zM93.3 298.3h2.4v1h-2.4zM95.3 298.5h2.4v1.5h-2.4zM100.3 299.2h2.4v2h-2.4zM111.3 298.3h2.4v3.2h-2.4zM116.3 299.3h2.4v1h-2.4zM118.3 299.6h2.4v3.2h-2.4zM126.3 299.6h2.4v1.1h-2.4zM131.3 298.3h2.4v3.5h-2.4zM139.3 300.5h2.4v1.1h-2.4zM144.3 299.4h2.4v1.5h-2.4zM149.3 298.2h2.4v1.3h-2.4zM155.3 299h2.4v2.9h-2.4zM162.3 300.5h2.4v1.5h-2.4zM178.3 294.1h2.4v1.9h-2.4zM180.3 297.4h2.4v1h-2.4zM188.3 291.2h2.4v12.1h-2.4zM191.3 302.3h2.4v5.2h-2.4zM193.3 308.6h2.4v4h-2.4zM206.3 306.8h2.4v1.9h-2.4zM211.3 307.4h2.4v1.3h-2.4zM219.3 306.7h2.4v2.6h-2.4zM222.3 310.1h2.4v1.4h-2.4zM232.3 304.3h2.4v3h-2.4zM235.3 304.1h2.4v15.8h-2.4zM237.3 320.4h2.4v1h-2.4zM240.3 319.6h2.4v9.1h-2.4zM247.3 326.3h2.4v1h-2.4zM258.3 327h2.4v14h-2.4zM260.3 342.6h2.4v1.7h-2.4zM263.3 342.6h2.4v8h-2.4zM265.3 351.8h2.4v16.9h-2.4zM268.3 367.9h2.4v8.8h-2.4zM271.3 376.7h2.4v1h-2.4zM276.3 376h2.4v2.2h-2.4zM278.3 378.1h2.4v1.7h-2.4zM281.3 381.2h2.4v5.8h-2.4zM283.3 388.3h2.4v12.1h-2.4zM286.3 399.4h2.4v2.3h-2.4zM296.3 395.4h2.4v4.3h-2.4zM299.3 398.9h2.4v5.1h-2.4zM320.3 369h2.4v1h-2.4zM322.3 369h2.4v1h-2.4zM327.3 365h2.4v1h-2.4zM332.3 360.9h2.4v1h-2.4zM335.3 360.1h2.4v3.5h-2.4zM338.3 363h2.4v5.4h-2.4zM345.3 365.1h2.4v1h-2.4zM348.3 365.8h2.4v2.4h-2.4zM351.3 368.6h2.4v1h-2.4zM374.3 344h2.4v1.6h-2.4zM379.3 343.6h2.4v1.3h-2.4zM381.3 343.8h2.4v1h-2.4zM402.3 331.3h2.4v1h-2.4zM410.3 327.2h2.4v1h-2.4zM418.3 321.6h2.4v2.4h-2.4zM423.3 322.6h2.4v1h-2.4zM428.3 320.8h2.4v9.7h-2.4zM430.3 330.8h2.4v5.7h-2.4zM433.3 336.1h2.4v1h-2.4zM436.3 336.4h2.4v1h-2.4zM446.3 330.7h2.4v2h-2.4zM451.3 331.8h2.4v4.5h-2.4zM454.3 337.4h2.4v3.5h-2.4zM456.3 340.2h2.4v3.3h-2.4zM459.3 343h2.4v3.6h-2.4zM464.3 343.9h2.4v1h-2.4zM474.3 333.5h2.4v1h-2.4zM477.3 333.1h2.4v1.2h-2.4zM482.3 328.9h2.4v2.5h-2.4zM485.3 331.3h2.4v1h-2.4zM490.3 330.9h2.4v1h-2.4zM495.3 330h2.4v1.2h-2.4zM497.3 331.6h2.4v1h-2.4zM500.3 332.4h2.4v2.8h-2.4zM505.3 336.3h2.4v6.2h-2.4zM508.3 344.8h2.4v4.3h-2.4zM510.3 348.4h2.4v11.3h-2.4zM513.3 359.1h2.4v2h-2.4zM521.3 355.5h2.4v1h-2.4zM531.3 344.9h2.4v1h-2.4zM541.3 337h2.4v3.2h-2.4zM546.3 338h2.4v1.7h-2.4zM549.3 339h2.4v1h-2.4zM554.3 339.3h2.4v1h-2.4zM562.3 329.1h2.4v6.8h-2.4zM567.3 327.6h2.4v2.3h-2.4zM577.3 321.5h2.4v3.5h-2.4zM583.3 320.7h2.4v1h-2.4zM585.3 321.2h2.4v2.3h-2.4zM588.3 323.7h2.4v2.9h-2.4zM590.3 325.8h2.4v1h-2.4zM598.3 322.6h2.4v1h-2.4zM603.3 322.3h2.4v1h-2.4zM611.3 320.7h2.4v1h-2.4zM619.3 317.8h2.4v1h-2.4zM621.3 317.7h2.4v1h-2.4zM624.3 317.3h2.4v1h-2.4zM629.3 317.4h2.4v1.4h-2.4zM634.3 316.5h2.4v1h-2.4zM639.3 314.7h2.4v1h-2.4zM650.3 312.3h2.4v1h-2.4zM657.3 306.8h2.4v1h-2.4zM662.3 306.1h2.4v1.1h-2.4zM665.3 307.2h2.4v1h-2.4zM675.3 297.6h2.4v3.5h-2.4zM678.3 302.4h2.4v3.3h-2.4zM681.3 306.1h2.4v1.1h-2.4zM683.3 307.1h2.4v8.7h-2.4zM693.3 306.5h2.4v3h-2.4zM704.3 300.9h2.4v1.2h-2.4zM709.3 301.1h2.4v1h-2.4zM711.3 300.8h2.4v1h-2.4zM724.3 289.8h2.4v1h-2.4zM737.3 282.9h2.4v2.4h-2.4zM740.3 285.8h2.4v1h-2.4zM748.3 279.5h2.4v1h-2.4zM758.3 275.7h2.4v1h-2.4zM773.3 264.7h2.4v1h-2.4zM778.3 259.8h2.4v3.4h-2.4zM797.3 251h2.4v1h-2.4zM804.3 241.4h2.4v3.4h-2.4zM817.3 217.1h2.4v1h-2.4zM820.3 217.5h2.4v1h-2.4zM822.3 218.6h2.4v1h-2.4zM827.3 215.9h2.4v12.3h-2.4zM830.3 227h2.4v7.3h-2.4zM833.3 234h2.4v1.2h-2.4zM840.3 226.2h2.4v3.2h-2.4zM843.3 232.3h2.4v6.9h-2.4zM846.3 240.2h2.4v24.2h-2.4zM848.3 263.8h2.4v12.7h-2.4zM851.3 277.5h2.4v1.9h-2.4zM864.3 241.6h2.4v7.1h-2.4zM866.3 249.2h2.4v1h-2.4zM874.3 231.9h2.4v3.6h-2.4zM882.3 223.1h2.4v1h-2.4zM884.3 223.9h2.4v3.6h-2.4zM887.3 226h2.4v3.2h-2.4zM895.3 218.5h2.4v1h-2.4zM902.3 221.3h2.4v4.9h-2.4zM905.3 226.5h2.4v1h-2.4zM907.3 227.7h2.4v1h-2.4zM920.3 220h2.4v1h-2.4zM925.3 216.8h2.4v1.2h-2.4zM931.3 214.9h2.4v3.5h-2.4zM933.3 217h2.4v5.4h-2.4zM936.3 222.1h2.4v9.9h-2.4zM962.3 201.4h2.4v2.6h-2.4zM964.3 203.1h2.4v1h-2.4zM972.3 194h2.4v1.3h-2.4zM974.3 194.9h2.4v1.7h-2.4zM977.3 196.3h2.4v1h-2.4zM980.3 195.9h2.4v1h-2.4zM987.3 188.1h2.4v12.1h-2.4zM990.3 202.1h2.4v4.9h-2.4zM992.3 205.9h2.4v1h-2.4zM995.3 205.7h2.4v3.6h-2.4zM1013.3 197.1h2.4v1h-2.4zM1018.3 190.7h2.4v2.2h-2.4zM1021.3 192.2h2.4v1.9h-2.4zM1031.3 191.9h2.4v2.6h-2.4zM1065.3 157.6h2.4v4.1h-2.4zM1067.3 160.3h2.4v9.3h-2.4zM1078.3 158.9h2.4v2.6h-2.4zM1083.3 159.4h2.4v2h-2.4zM1085.3 160.5h2.4v2.2h-2.4zM1093.3 152.7h2.4v1h-2.4zM1098.3 149.8h2.4v1.9h-2.4zM1106.3 142.7h2.4v1.8h-2.4zM1116.3 138.9h2.4v3.8h-2.4zM1119.3 143.5h2.4v11.2h-2.4zM1124.3 150.6h2.4v1h-2.4zM1127.3 150.8h2.4v15.7h-2.4zM1129.3 169.7h2.4v9.4h-2.4zM1132.3 178.2h2.4v2.9h-2.4zM1134.3 180.7h2.4v3.3h-2.4zM1137.3 184.6h2.4v1h-2.4zM1142.3 174.1h2.4v17.7h-2.4zM1152.3 185.6h2.4v1.1h-2.4zM1155.3 186.9h2.4v1.9h-2.4zM1160.3 185.6h2.4v1h-2.4zM1170.3 173.3h2.4v1h-2.4zM1183.3 158.6h2.4v1h-2.4zM1188.3 157.9h2.4v1.8h-2.4zM1191.3 159.8h2.4v1h-2.4zM1196.3 156.9h2.4v1h-2.4zM1199.3 157.5h2.4v2.1h-2.4zM1204.3 156.8h2.4v9.1h-2.4zM1206.3 167.7h2.4v7h-2.4zM1209.3 174.6h2.4v6.6h-2.4zM1214.3 179.8h2.4v1h-2.4zM1230.3 163h2.4v1.8h-2.4zM1232.3 164.6h2.4v2.3h-2.4zM1235.3 166.7h2.4v1h-2.4zM1240.3 162.5h2.4v2.1h-2.4zM1243.3 164.2h2.4v1h-2.4zM1255.3 157.8h2.4v6.3h-2.4zM1258.3 164.5h2.4v1h-2.4zM1266.3 160.5h2.4v8.5h-2.4zM1276.3 165.1h2.4v1.6h-2.4zM1284.3 158.9h2.4v1.6h-2.4zM1292.3 148.5h2.4v1h-2.4zM1297.3 146.3h2.4v1.2h-2.4zM1302.3 147.3h2.4v1h-2.4zM1304.3 148.1h2.4v1h-2.4zM1310.3 145.6h2.4v1.3h-2.4zM1312.3 146h2.4v1.7h-2.4zM1315.3 147.9h2.4v1.2h-2.4zM1317.3 148.8h2.4v1h-2.4zM1335.3 128.7h2.4v1.8h-2.4zM1346.3 122.9h2.4v1h-2.4zM1348.3 123.4h2.4v1.1h-2.4zM1353.3 121.1h2.4v2.3h-2.4zM1359.3 118.6h2.4v1h-2.4zM1361.3 119.4h2.4v2.4h-2.4zM1366.3 118.4h2.4v4.8h-2.4zM1369.3 123.3h2.4v7.9h-2.4zM1371.3 128.9h2.4v1h-2.4zM1379.3 105.3h2.4v3h-2.4zM1382.3 106.7h2.4v2.4h-2.4zM1384.3 108.5h2.4v11.3h-2.4zM1392.3 111.7h2.4v3.5h-2.4zM1395.3 116.5h2.4v16h-2.4zM1402.3 123.4h2.4v4.6h-2.4zM1410.3 116.4h2.4v1.6h-2.4zM1413.3 117.9h2.4v1h-2.4zM1420.3 115.5h2.4v1.1h-2.4zM1426.3 116.8h2.4v1.7h-2.4zM1428.3 119.4h2.4v1.7h-2.4zM1431.3 119.2h2.4v1h-2.4zM1436.3 114.3h2.4v1h-2.4z" fill="#ff0000"/>
<path d="M57 284.8 L60.5 284.5 L63.5 284.3 L65.5 284 L68.5 283.6 L71.5 283.3 L73.5 283.2 L76.5 283.4 L78.5 283.8 L81.5 284.1 L83.5 284.4 L86.5 284.9 L89.5 285.6 L91.5 286.6 L94.5 287.6 L96.5 288.7 L99.5 289.7 L101.5 290.7 L104.5 291.8 L107.5 292.8 L109.5 293.8 L112.5 294.6 L114.5 295.6 L117.5 296.4 L119.5 297.1 L122.5 297.7 L125.5 298.3 L127.5 298.9 L130.5 299.4 L132.5 299.8 L135.5 300.1 L138.5 300.2 L140.5 300.3 L143.5 300.4 L145.5 300.5 L148.5 300.6 L150.5 300.7 L153.5 300.7 L156.5 300.6 L158.5 300.5 L161.5 300.4 L163.5 300.3 L166.5 300.3 L168.5 300.2 L171.5 300 L174.5 299.8 L176.5 299.5 L179.5 299.2 L181.5 298.8 L184.5 298.5 L187.5 298.3 L189.5 298.5 L192.5 298.9 L194.5 299.5 L197.5 300 L199.5 300.6 L202.5 301.1 L205.5 301.6 L207.5 302.1 L210.5 302.4 L212.5 302.9 L215.5 303.3 L217.5 303.8 L220.5 304.4 L223.5 305 L225.5 305.7 L228.5 306.3 L230.5 307 L233.5 307.7 L236.5 308.6 L238.5 309.4 L241.5 310.2 L243.5 311.1 L246.5 311.9 L248.5 313.1 L251.5 314.5 L254.5 316.1 L256.5 317.7 L259.5 319 L261.5 320.9 L264.5 323 L266.5 325.9 L269.5 329 L272.5 332.2 L274.5 335.6 L277.5 338.6 L279.5 342.3 L282.5 345.6 L284.5 349.3 L287.5 353.2 L290.5 357.3 L292.5 361.6 L295.5 365.4 L297.5 369.4 L300.5 373.1 L303.5 376.5 L305.5 379.7 L308.5 381.9 L310.5 383.8 L313.5 384.8 L315.5 385.9 L318.5 386.5 L321.5 386.6 L323.5 386.3 L326.5 385.9 L328.5 385.1 L331.5 384 L333.5 382.5 L336.5 381 L339.5 379.5 L341.5 377.9 L344.5 376.5 L346.5 374.9 L349.5 373.4 L352.5 371.8 L354.5 370.4 L357.5 369.2 L359.5 367.8 L362.5 366.7 L364.5 365.4 L367.5 364.2 L370.5 363 L372.5 361.9 L375.5 360.9 L377.5 359.7 L380.5 358.7 L382.5 357.4 L385.5 355.8 L388.5 354.1 L390.5 352.3 L393.5 350.7 L395.5 348.9 L398.5 347.2 L401.5 345.4 L403.5 343.6 L406.5 342.1 L408.5 340.3 L411.5 338.8 L413.5 337.4 L416.5 336.2 L419.5 335.3 L421.5 334.3 L424.5 333.6 L426.5 332.9 L429.5 332.6 L431.5 332.2 L434.5 332 L437.5 331.9 L439.5 331.9 L442.5 332.1 L444.5 332.2 L447.5 332.3 L449.5 332.5 L452.5 332.9 L455.5 333.3 L457.5 333.9 L460.5 334.3 L462.5 334.8 L465.5 335.3 L468.5 335.7 L470.5 336.2 L473.5 336.5 L475.5 336.8 L478.5 336.8 L480.5 336.7 L483.5 336.5 L486.5 336.3 L488.5 336.1 L491.5 335.9 L493.5 335.9 L496.5 336.1 L498.5 336.4 L501.5 336.7 L504.5 337 L506.5 337.4 L509.5 337.8 L511.5 338.5 L514.5 339.3 L517.5 340.1 L519.5 340.9 L522.5 341.5 L524.5 342.1 L527.5 342.6 L529.5 343.2 L532.5 343.7 L535.5 344.2 L537.5 344.6 L540.5 344.7 L542.5 344.9 L545.5 345 L547.5 345.2 L550.5 345.3 L553.5 345.5 L555.5 345.6 L558.5 345.4 L560.5 344.7 L563.5 343.4 L566.5 342.2 L568.5 341 L571.5 340 L573.5 338.8 L576.5 337.8 L578.5 336.7 L581.5 335.6 L584.5 334.5 L586.5 333.5 L589.5 332.7 L591.5 331.8 L594.5 331 L596.5 330.1 L599.5 329.2 L602.5 328.3 L604.5 327.4 L607.5 326.8 L609.5 326 L612.5 325.5 L614.5 324.8 L617.5 324.1 L620.5 323.5 L622.5 322.8 L625.5 322.2 L627.5 321.6 L630.5 321.1 L633.5 320.6 L635.5 320 L638.5 319.6 L640.5 319 L643.5 318.6 L645.5 318 L648.5 317.4 L651.5 316.7 L653.5 316 L656.5 315.5 L658.5 314.8 L661.5 314.2 L663.5 313.5 L666.5 312.9 L669.5 312.4 L671.5 311.8 L674.5 311.4 L676.5 310.8 L679.5 310.3 L682.5 309.9 L684.5 309.6 L687.5 309.3 L689.5 309 L692.5 308.7 L694.5 308.4 L697.5 308 L700.5 307.7 L702.5 307.3 L705.5 307 L707.5 306.7 L710.5 306.3 L712.5 305.8 L715.5 305.3 L718.5 304.7 L720.5 304.1 L723.5 303.6 L725.5 302.8 L728.5 301.7 L731.5 300.4 L733.5 299.1 L736.5 297.9 L738.5 296.6 L741.5 295.4 L743.5 294 L746.5 292.6 L749.5 291.1 L751.5 289.7 L754.5 288.5 L756.5 287 L759.5 285.7 L761.5 284.1 L764.5 282.5 L767.5 281 L769.5 279.5 L772.5 278.2 L774.5 276.7 L777.5 275.5 L779.5 274 L782.5 272.6 L785.5 271.1 L787.5 269.5 L790.5 268 L792.5 266.2 L795.5 264.5 L798.5 262.7 L800.5 260.8 L803.5 259 L805.5 257 L808.5 255.4 L810.5 253.6 L813.5 251.8 L816.5 249.7 L818.5 247.4 L821.5 245.4 L823.5 243.3 L826.5 241.6 L828.5 239.8 L831.5 238.1 L834.5 236.5 L836.5 235.1 L839.5 234 L841.5 233.1 L844.5 233.2 L847.5 233.7 L849.5 234.7 L852.5 235.6 L854.5 236.6 L857.5 237.5 L859.5 238.6 L862.5 239.6 L865.5 240.6 L867.5 241.4 L870.5 242 L872.5 242.5 L875.5 243 L877.5 243.3 L880.5 243.3 L883.5 243.1 L885.5 242.6 L888.5 242.2 L890.5 241.8 L893.5 240.9 L896.5 239.7 L898.5 238.1 L901.5 236.5 L903.5 234.8 L906.5 233.2 L908.5 231.5 L911.5 229.8 L914.5 228.1 L916.5 226.5 L919.5 225.4 L921.5 224.5 L924.5 224.2 L926.5 223.7 L929.5 223.4 L932.5 223.1 L934.5 223 L937.5 223 L939.5 223 L942.5 223 L944.5 222.9 L947.5 222.4 L950.5 221.8 L952.5 220.8 L955.5 220.1 L957.5 219.1 L960.5 218.1 L963.5 217 L965.5 215.9 L968.5 214.9 L970.5 213.8 L973.5 212.8 L975.5 211.7 L978.5 210.6 L981.5 209.5 L983.5 208.4 L986.5 207.4 L988.5 206.4 L991.5 205.5 L993.5 204.6 L996.5 203.8 L999.5 202.9 L1001.5 202 L1004.5 201.4 L1006.5 200.9 L1009.5 200.6 L1012.5 200.3 L1014.5 200 L1017.5 199.7 L1019.5 199.4 L1022.5 199.2 L1024.5 199 L1027.5 198.8 L1030.5 198.6 L1032.5 198.2 L1035.5 197.5 L1037.5 196.5 L1040.5 195.4 L1042.5 194.2 L1045.5 192.8 L1048.5 191.3 L1050.5 189.5 L1053.5 187.8 L1055.5 186 L1058.5 184.2 L1061.5 182.5 L1063.5 180.8 L1066.5 179.4 L1068.5 177.8 L1071.5 176.4 L1073.5 174.8 L1076.5 173.2 L1079.5 171.6 L1081.5 170 L1084.5 168.6 L1086.5 167 L1089.5 165.6 L1091.5 164 L1094.5 162.5 L1097.5 161 L1099.5 159.7 L1102.5 158.6 L1104.5 157.4 L1107.5 156.4 L1109.5 155.3 L1112.5 154.3 L1115.5 153.3 L1117.5 152.5 L1120.5 152 L1122.5 151.6 L1125.5 151.7 L1128.5 152.1 L1130.5 153.1 L1133.5 154.3 L1135.5 155.8 L1138.5 157.2 L1140.5 158.9 L1143.5 160.9 L1146.5 163 L1148.5 165.4 L1151.5 167.4 L1153.5 169.6 L1156.5 171.5 L1158.5 173.7 L1161.5 175.7 L1164.5 177.5 L1166.5 179 L1169.5 180.2 L1171.5 181.2 L1174.5 181.8 L1177.5 181.9 L1179.5 181.5 L1182.5 180.7 L1184.5 179.7 L1187.5 178.7 L1189.5 177.3 L1192.5 175.6 L1195.5 173.8 L1197.5 172.3 L1200.5 171.1 L1202.5 169.9 L1205.5 169 L1207.5 168.1 L1210.5 167.6 L1213.5 167.2 L1215.5 167 L1218.5 166.7 L1220.5 166.6 L1223.5 166.5 L1226.5 166.5 L1228.5 166.5 L1231.5 166.5 L1233.5 166.7 L1236.5 167 L1238.5 167.4 L1241.5 167.9 L1244.5 168.3 L1246.5 168.7 L1249.5 169 L1251.5 169.3 L1254.5 169.5 L1256.5 169.3 L1259.5 168.7 L1262.5 168 L1264.5 167.3 L1267.5 166.8 L1269.5 166.3 L1272.5 166.1 L1274.5 165.8 L1277.5 165.6 L1280.5 165.2 L1282.5 164.6 L1285.5 164 L1287.5 163.3 L1290.5 162.6 L1293.5 161.9 L1295.5 161.2 L1298.5 160.5 L1300.5 159.8 L1303.5 159.1 L1305.5 158.4 L1308.5 157.6 L1311.5 156.8 L1313.5 156 L1316.5 155.3 L1318.5 154.4 L1321.5 153.3 L1323.5 151.7 L1326.5 149.8 L1329.5 147.9 L1331.5 146.1 L1334.5 144.6 L1336.5 142.9 L1339.5 141.3 L1342.5 139.8 L1344.5 138.2 L1347.5 136.9 L1349.5 135.6 L1352.5 134.4 L1354.5 133.1 L1357.5 131.8 L1360.5 130.4 L1362.5 129.1 L1365.5 127.9 L1367.5 126.6 L1370.5 125.5 L1372.5 124.5 L1375.5 123.5 L1378.5 122.6 L1380.5 121.8 L1383.5 121.1 L1385.5 120.5 L1388.5 120.2 L1391.5 120 L1393.5 120.2 L1396.5 120.5 L1398.5 120.8 L1401.5 121 L1403.5 121.1 L1406.5 121.2 L1409.5 121.3 L1411.5 121.4 L1414.5 121.4 L1416.5 121.2 L1419.5 121 L1421.5 120.9 L1424.5 120.8 L1427.5 120.9 L1429.5 120.9 L1432.5 121 L1434.5 121 L1437.5 121 L1440.5 121" fill="none" stroke="#e9a51c" stroke-width="1.25" stroke-linejoin="round"/>
<path d="M60.5 593.2V590.8M119.5 593.2V592.6M130.5 593.2V592.6M132.5 593.2V592.2M135.5 593.2V591.6M138.5 593.2V590.3M140.5 593.2V589.3M143.5 593.2V588.1M145.5 593.2V587.3M148.5 593.2V586.6M150.5 593.2V586.3M163.5 593.2V589.5M166.5 593.2V588.4M168.5 593.2V587.9M171.5 593.2V587M174.5 593.2V586.2M176.5 593.2V585.9M179.5 593.2V585M181.5 593.2V584.2M184.5 593.2V582.6M305.5 593.2V585M308.5 593.2V572.7M310.5 593.2V563.9M313.5 593.2V553.8M315.5 593.2V548.9M318.5 593.2V544.7M321.5 593.2V541.9M323.5 593.2V542.4M359.5 593.2V587.4M362.5 593.2V584.3M364.5 593.2V581.1M367.5 593.2V575.3M370.5 593.2V570.7M372.5 593.2V570.5M419.5 593.2V590.1M478.5 593.2V590.3M480.5 593.2V588.3M483.5 593.2V587.8M486.5 593.2V587.6M488.5 593.2V587.8M532.5 593.2V588.7M535.5 593.2V584.7M537.5 593.2V582.4M540.5 593.2V580.1M542.5 593.2V579.4M545.5 593.2V578.7M560.5 593.2V583M563.5 593.2V582.1M566.5 593.2V581.5M568.5 593.2V581.8M573.5 593.2V581.5M576.5 593.2V580.1M578.5 593.2V579.4M612.5 593.2V592.6M614.5 593.2V592.5M651.5 593.2V592.6M653.5 593.2V591.4M656.5 593.2V590M658.5 593.2V589.5M661.5 593.2V589.2M671.5 593.2V589.6M707.5 593.2V592M710.5 593.2V590.4M715.5 593.2V591.5M718.5 593.2V590M720.5 593.2V588.6M723.5 593.2V586.8M725.5 593.2V585.5M728.5 593.2V583.6M731.5 593.2V582.4M733.5 593.2V582.4M764.5 593.2V587.9M767.5 593.2V586M769.5 593.2V586M779.5 593.2V587.4M790.5 593.2V590.4M792.5 593.2V590M800.5 593.2V590.2M803.5 593.2V588.3M805.5 593.2V586.8M808.5 593.2V583.8M810.5 593.2V581.7M813.5 593.2V578.2M816.5 593.2V574.6M818.5 593.2V574.5M872.5 593.2V583.6M875.5 593.2V574.5M877.5 593.2V570.2M880.5 593.2V569.5M929.5 593.2V592.6M952.5 593.2V589.7M955.5 593.2V584M957.5 593.2V580.6M960.5 593.2V577.8M963.5 593.2V577.5M1022.5 593.2V592.6M1035.5 593.2V592.5M1037.5 593.2V590.4M1040.5 593.2V586.1M1042.5 593.2V582.9M1045.5 593.2V579.8M1048.5 593.2V579.4M1050.5 593.2V580.2M1055.5 593.2V579.2M1058.5 593.2V576.9M1061.5 593.2V573.5M1063.5 593.2V573.6M1102.5 593.2V592.6M1104.5 593.2V591.4M1107.5 593.2V589.7M1109.5 593.2V589.1M1112.5 593.2V588.6M1166.5 593.2V591.1M1169.5 593.2V582.4M1171.5 593.2V576.5M1174.5 593.2V570.8M1177.5 593.2V566.4M1179.5 593.2V565.3M1184.5 593.2V565.1M1231.5 593.2V591.4M1233.5 593.2V590.4M1236.5 593.2V589.5M1238.5 593.2V589.1M1241.5 593.2V588.9M1246.5 593.2V589.1M1249.5 593.2V588.4M1251.5 593.2V588.2M1285.5 593.2V592.1M1287.5 593.2V589.3M1290.5 593.2V585.1M1293.5 593.2V580.6M1295.5 593.2V578.4M1298.5 593.2V577.6M1321.5 593.2V592.1M1323.5 593.2V589.4M1326.5 593.2V585.5M1329.5 593.2V582.2M1331.5 593.2V580.8M1334.5 593.2V580.6M1437.5 593.2V592.6M1440.5 593.2V591.7" stroke="#26a69a" stroke-width="1" fill="none"/>
<path d="M63.5 593.2V592.2M153.5 593.2V586.4M156.5 593.2V588M158.5 593.2V589.6M161.5 593.2V590.1M187.5 593.2V582.3M189.5 593.2V588.3M326.5 593.2V540.9M328.5 593.2V543.8M331.5 593.2V544.9M333.5 593.2V547.8M336.5 593.2V553.6M339.5 593.2V559.7M341.5 593.2V565.1M344.5 593.2V569.1M346.5 593.2V573.3M349.5 593.2V577.6M352.5 593.2V581.4M354.5 593.2V584.3M357.5 593.2V586.8M375.5 593.2V570.3M377.5 593.2V572.2M380.5 593.2V573.5M382.5 593.2V574.6M385.5 593.2V574.2M388.5 593.2V574.4M390.5 593.2V576.4M393.5 593.2V578.1M395.5 593.2V579.9M398.5 593.2V582.6M401.5 593.2V585.5M403.5 593.2V587.8M406.5 593.2V588.6M408.5 593.2V589M411.5 593.2V589.3M413.5 593.2V589.9M416.5 593.2V590.4M421.5 593.2V589.9M424.5 593.2V591.6M491.5 593.2V587.8M493.5 593.2V588.3M496.5 593.2V590.6M547.5 593.2V579.3M550.5 593.2V580.6M553.5 593.2V581.8M555.5 593.2V583M558.5 593.2V583.1M571.5 593.2V581.5M581.5 593.2V579.1M584.5 593.2V580.9M586.5 593.2V583.8M589.5 593.2V586.5M591.5 593.2V588.9M594.5 593.2V591M596.5 593.2V592.4M599.5 593.2V592.6M617.5 593.2V592.4M663.5 593.2V589.3M666.5 593.2V589.8M669.5 593.2V590.1M674.5 593.2V589.5M676.5 593.2V590.9M712.5 593.2V590.8M736.5 593.2V582.2M738.5 593.2V583M741.5 593.2V584.1M743.5 593.2V585.3M746.5 593.2V586M749.5 593.2V586.4M751.5 593.2V586.9M754.5 593.2V587.2M756.5 593.2V587.8M759.5 593.2V588.5M761.5 593.2V589.3M772.5 593.2V587M774.5 593.2V588.6M777.5 593.2V588.1M782.5 593.2V587.9M785.5 593.2V590.3M787.5 593.2V591M795.5 593.2V590.1M798.5 593.2V590.4M821.5 593.2V576M823.5 593.2V578.8M826.5 593.2V582M828.5 593.2V589.2M883.5 593.2V570.9M885.5 593.2V574.6M888.5 593.2V577.5M890.5 593.2V579M893.5 593.2V578.9M896.5 593.2V579.1M898.5 593.2V582.4M901.5 593.2V587.1M903.5 593.2V590.9M965.5 593.2V578.3M968.5 593.2V578.6M970.5 593.2V579.6M973.5 593.2V580.6M975.5 593.2V582.4M978.5 593.2V585.4M981.5 593.2V588.1M983.5 593.2V588.8M986.5 593.2V590.8M1024.5 593.2V592.6M1053.5 593.2V579.5M1066.5 593.2V578M1068.5 593.2V585.9M1071.5 593.2V592.6M1115.5 593.2V589.4M1182.5 593.2V563.8M1187.5 593.2V565.9M1189.5 593.2V567.9M1192.5 593.2V569.4M1195.5 593.2V570.8M1197.5 593.2V573.6M1200.5 593.2V575.8M1202.5 593.2V580.3M1205.5 593.2V589.4M1244.5 593.2V589M1254.5 593.2V588.8M1256.5 593.2V590M1259.5 593.2V590.4M1262.5 593.2V590.6M1300.5 593.2V578.2M1303.5 593.2V579.2M1305.5 593.2V581M1308.5 593.2V583.1M1311.5 593.2V586.3M1313.5 593.2V588.8M1316.5 593.2V591.2M1318.5 593.2V592.6M1336.5 593.2V581.1M1339.5 593.2V581.2M1342.5 593.2V581.3M1344.5 593.2V582.2M1347.5 593.2V583.6M1349.5 593.2V585.1M1352.5 593.2V586.5M1354.5 593.2V587.7M1357.5 593.2V589.4M1360.5 593.2V591.6" stroke="#b2dfdb" stroke-width="1" fill="none"/>
<path d="M65.5 593.2V593.8M68.5 593.2V596.3M71.5 593.2V598.6M73.5 593.2V600.1M76.5 593.2V603.3M78.5 593.2V605.2M81.5 593.2V607M83.5 593.2V607M86.5 593.2V607.4M89.5 593.2V607.8M91.5 593.2V607.5M122.5 593.2V593.8M125.5 593.2V593.8M192.5 593.2V597M194.5 593.2V602.4M197.5 593.2V605.1M199.5 593.2V605.8M233.5 593.2V595.9M236.5 593.2V599M238.5 593.2V600.9M241.5 593.2V602.9M243.5 593.2V604.2M246.5 593.2V605.6M256.5 593.2V599.8M259.5 593.2V603.6M261.5 593.2V607.3M264.5 593.2V615.7M266.5 593.2V622.1M269.5 593.2V630M272.5 593.2V634.2M274.5 593.2V633.7M284.5 593.2V632.2M426.5 593.2V595.4M429.5 593.2V602.3M431.5 593.2V607.5M434.5 593.2V611.1M437.5 593.2V612.9M452.5 593.2V605.6M455.5 593.2V606.2M457.5 593.2V607.1M460.5 593.2V609.4M462.5 593.2V610.3M498.5 593.2V593.8M501.5 593.2V596.3M504.5 593.2V600.4M506.5 593.2V605M509.5 593.2V610.7M511.5 593.2V613.1M514.5 593.2V616M517.5 593.2V617.3M602.5 593.2V593.8M604.5 593.2V593.9M620.5 593.2V593.8M622.5 593.2V594.1M625.5 593.2V594.9M627.5 593.2V595.3M630.5 593.2V595.5M633.5 593.2V595.7M635.5 593.2V595.8M679.5 593.2V594.2M682.5 593.2V599.7M684.5 593.2V602.6M687.5 593.2V603.6M831.5 593.2V600.1M834.5 593.2V608.1M836.5 593.2V609.7M839.5 593.2V611.1M841.5 593.2V613.6M844.5 593.2V620.2M847.5 593.2V632.6M849.5 593.2V639.9M852.5 593.2V648M854.5 593.2V645.9M906.5 593.2V594.4M908.5 593.2V596.5M911.5 593.2V596.5M919.5 593.2V595.8M932.5 593.2V593.8M934.5 593.2V596.9M937.5 593.2V601.8M939.5 593.2V603.9M942.5 593.2V605.5M988.5 593.2V594.4M991.5 593.2V599.1M993.5 593.2V602.7M996.5 593.2V606.2M999.5 593.2V606.5M1027.5 593.2V594M1030.5 593.2V595.5M1073.5 593.2V596.4M1076.5 593.2V596M1084.5 593.2V594.9M1086.5 593.2V595.3M1097.5 593.2V594.4M1117.5 593.2V593.8M1120.5 593.2V602.8M1122.5 593.2V606.7M1125.5 593.2V611.4M1128.5 593.2V620M1130.5 593.2V626.2M1133.5 593.2V635.6M1135.5 593.2V640M1138.5 593.2V643.3M1140.5 593.2V642.4M1207.5 593.2V597.4M1210.5 593.2V605.3M1213.5 593.2V610.3M1215.5 593.2V611.7M1264.5 593.2V593.8M1267.5 593.2V596.1M1269.5 593.2V597M1272.5 593.2V597.3M1274.5 593.2V597.4M1362.5 593.2V593.8M1365.5 593.2V597.5M1367.5 593.2V600.6M1370.5 593.2V604M1383.5 593.2V597.2M1385.5 593.2V597.6M1388.5 593.2V598.7M1391.5 593.2V602.2M1393.5 593.2V607.2M1396.5 593.2V613.3M1398.5 593.2V615.6M1427.5 593.2V594.9M1429.5 593.2V596.4M1432.5 593.2V596" stroke="#ff5252" stroke-width="1" fill="none"/>
<path d="M94.5 593.2V608.1M96.5 593.2V607.7M99.5 593.2V606.1M101.5 593.2V604.2M104.5 593.2V602.2M107.5 593.2V600.3M109.5 593.2V598.6M112.5 593.2V596.9M114.5 593.2V595.2M117.5 593.2V593.8M127.5 593.2V593.8M202.5 593.2V605.4M205.5 593.2V604.2M207.5 593.2V603.1M210.5 593.2V602M212.5 593.2V600M215.5 593.2V598M217.5 593.2V596.6M220.5 593.2V596.1M223.5 593.2V596M225.5 593.2V595.7M228.5 593.2V594.8M230.5 593.2V594.2M248.5 593.2V603.9M251.5 593.2V601.3M254.5 593.2V599.2M277.5 593.2V633M279.5 593.2V630.4M282.5 593.2V631M287.5 593.2V635.8M290.5 593.2V629.6M292.5 593.2V620.7M295.5 593.2V612.1M297.5 593.2V607.8M300.5 593.2V603M303.5 593.2V594.9M439.5 593.2V612.8M442.5 593.2V611M444.5 593.2V608.1M447.5 593.2V606M449.5 593.2V605.3M465.5 593.2V608.9M468.5 593.2V606.2M470.5 593.2V602.3M473.5 593.2V598.2M475.5 593.2V594.3M519.5 593.2V615.3M522.5 593.2V612.1M524.5 593.2V607M527.5 593.2V600.9M529.5 593.2V594.9M607.5 593.2V593.8M609.5 593.2V593.8M638.5 593.2V595.6M640.5 593.2V594.9M643.5 593.2V594.1M645.5 593.2V593.8M648.5 593.2V593.8M689.5 593.2V603.1M692.5 593.2V602M694.5 593.2V600.8M697.5 593.2V599.7M700.5 593.2V597.9M702.5 593.2V595.9M705.5 593.2V593.8M857.5 593.2V638M859.5 593.2V627.1M862.5 593.2V617.3M865.5 593.2V612.1M867.5 593.2V606.5M870.5 593.2V594.9M914.5 593.2V596M916.5 593.2V595.7M921.5 593.2V595.8M924.5 593.2V594.7M926.5 593.2V593.8M944.5 593.2V603.7M947.5 593.2V600.4M950.5 593.2V595.1M1001.5 593.2V605.5M1004.5 593.2V603.4M1006.5 593.2V600.7M1009.5 593.2V598.7M1012.5 593.2V598.1M1014.5 593.2V596.5M1017.5 593.2V594.5M1019.5 593.2V593.8M1032.5 593.2V594.7M1079.5 593.2V594.4M1081.5 593.2V594.2M1089.5 593.2V594.5M1091.5 593.2V593.8M1094.5 593.2V593.8M1099.5 593.2V594.6M1143.5 593.2V641.1M1146.5 593.2V638.3M1148.5 593.2V632.4M1151.5 593.2V625.7M1153.5 593.2V620.5M1156.5 593.2V616.1M1158.5 593.2V611M1161.5 593.2V605.4M1164.5 593.2V597.6M1218.5 593.2V610.6M1220.5 593.2V606.8M1223.5 593.2V602.3M1226.5 593.2V597.4M1228.5 593.2V593.9M1277.5 593.2V597.4M1280.5 593.2V596.2M1282.5 593.2V594.4M1372.5 593.2V604M1375.5 593.2V599.8M1378.5 593.2V596.6M1380.5 593.2V596.5M1401.5 593.2V615.8M1403.5 593.2V612.5M1406.5 593.2V608.7M1409.5 593.2V604.4M1411.5 593.2V601M1414.5 593.2V598.5M1416.5 593.2V596.8M1419.5 593.2V595.4M1421.5 593.2V594.5M1424.5 593.2V594.1M1434.5 593.2V594.5" stroke="#ffcdd2" stroke-width="1" fill="none"/>
<path d="M57 569.7 L60.5 571.7 L63.5 573.7 L65.5 575 L68.5 579 L71.5 583 L73.5 586 L76.5 592 L78.5 596 L81.5 601.4 L83.5 604.3 L86.5 608.6 L89.5 612.9 L91.5 615.7 L94.5 620 L96.5 622.9 L99.5 623.7 L101.5 624 L104.5 624 L107.5 623.6 L109.5 623.4 L112.5 622.2 L114.5 621.2 L117.5 619.8 L119.5 619.8 L122.5 620.4 L125.5 621 L127.5 620.9 L130.5 619.6 L132.5 618.8 L135.5 617.5 L138.5 615.1 L140.5 613.5 L143.5 611.1 L145.5 609.5 L148.5 607.4 L150.5 606 L153.5 604.4 L156.5 605.2 L158.5 605.7 L161.5 605.5 L163.5 604 L166.5 601.6 L168.5 600.1 L171.5 597.7 L174.5 595.3 L176.5 593.7 L179.5 590.7 L181.5 588.4 L184.5 584.8 L187.5 581.2 L189.5 587.1 L192.5 597.3 L194.5 604.2 L197.5 609.3 L199.5 612.8 L202.5 615.5 L205.5 616.9 L207.5 617.9 L210.5 618.4 L212.5 617.8 L215.5 617 L217.5 616.4 L220.5 616.7 L223.5 617.2 L225.5 617.5 L228.5 616.9 L230.5 616.5 L233.5 619.4 L236.5 624.8 L238.5 628.2 L241.5 632.7 L243.5 635.7 L246.5 640.1 L248.5 640.3 L251.5 640 L254.5 639.6 L256.5 642 L259.5 649.4 L261.5 654.4 L264.5 669.7 L266.5 681 L269.5 699 L272.5 712 L274.5 719 L277.5 727.5 L279.5 732.5 L282.5 743 L284.5 751.3 L287.5 767.5 L290.5 766.6 L292.5 764.9 L295.5 759.5 L297.5 760.4 L300.5 758.8 L303.5 751.2 L305.5 741.2 L308.5 723.3 L310.5 710 L313.5 689 L315.5 675 L318.5 658.5 L321.5 643.1 L323.5 634.3 L326.5 621.1 L328.5 616 L331.5 606.5 L333.5 598.5 L336.5 595.3 L339.5 592.9 L341.5 591.7 L344.5 590.2 L346.5 589.3 L349.5 589.8 L352.5 590.3 L354.5 590.7 L357.5 591.4 L359.5 590 L362.5 582.9 L364.5 577.3 L367.5 566.5 L370.5 556.5 L372.5 552.5 L375.5 547 L377.5 545 L380.5 542 L382.5 539.2 L385.5 534.5 L388.5 530.8 L390.5 529.8 L393.5 528.3 L395.5 527.4 L398.5 527.9 L401.5 529.1 L403.5 529.9 L406.5 529.3 L408.5 528.7 L411.5 528 L413.5 527.8 L416.5 527.6 L419.5 526.2 L421.5 525 L424.5 526.8 L426.5 530.6 L429.5 540.5 L431.5 548.5 L434.5 556.8 L437.5 563.3 L439.5 567.7 L442.5 569.6 L444.5 570.2 L447.5 571.2 L449.5 573.9 L452.5 577.9 L455.5 582.3 L457.5 586.7 L460.5 593.2 L462.5 597.5 L465.5 599.3 L468.5 599.6 L470.5 597.9 L473.5 595.2 L475.5 592.2 L478.5 587.4 L480.5 584.8 L483.5 583.2 L486.5 581.8 L488.5 580.9 L491.5 579.6 L493.5 578.9 L496.5 581 L498.5 582.5 L501.5 586.4 L504.5 591.6 L506.5 597.8 L509.5 608.2 L511.5 614.8 L514.5 624.4 L517.5 631.4 L519.5 633.6 L522.5 634.1 L524.5 631.9 L527.5 627 L529.5 622.2 L532.5 615 L535.5 610 L537.5 606.7 L540.5 601.8 L542.5 599.2 L545.5 595.2 L547.5 592.5 L550.5 590.6 L553.5 588.8 L555.5 587.5 L558.5 584.9 L560.5 582.2 L563.5 578.2 L566.5 574.5 L568.5 572.2 L571.5 568.8 L573.5 566.5 L576.5 561.9 L578.5 558.6 L581.5 555 L584.5 554.3 L586.5 555 L589.5 556.1 L591.5 557 L594.5 558.6 L596.5 559.5 L599.5 560.1 L602.5 560.8 L604.5 561.1 L607.5 560.8 L609.5 560.4 L612.5 559.8 L614.5 559.4 L617.5 558.8 L620.5 560 L622.5 560.9 L625.5 562.1 L627.5 563 L630.5 563.8 L633.5 564.5 L635.5 565 L638.5 565.4 L640.5 565.1 L643.5 564.7 L645.5 564.4 L648.5 564 L651.5 562.6 L653.5 561.1 L656.5 558.8 L658.5 557.6 L661.5 556.4 L663.5 555.6 L666.5 555.2 L669.5 555 L671.5 553.6 L674.5 552.6 L676.5 554.3 L679.5 558.3 L682.5 566.6 L684.5 570.8 L687.5 573.8 L689.5 575 L692.5 575.6 L694.5 576 L697.5 576.7 L700.5 575.7 L702.5 574.3 L705.5 572.1 L707.5 570.3 L710.5 567.7 L712.5 567.2 L715.5 566.8 L718.5 562.8 L720.5 560.2 L723.5 556 L725.5 553 L728.5 548.5 L731.5 544.9 L733.5 543.1 L736.5 540.4 L738.5 539.2 L741.5 538.4 L743.5 537.9 L746.5 536.8 L749.5 535.2 L751.5 534.2 L754.5 533 L756.5 532.1 L759.5 531.2 L761.5 531.2 L764.5 527.9 L767.5 524.2 L769.5 523 L772.5 522.6 L774.5 523.5 L777.5 521.2 L779.5 519.2 L782.5 518.4 L785.5 520.7 L787.5 520.8 L790.5 519.5 L792.5 518.8 L795.5 518.2 L798.5 517.8 L800.5 516.8 L803.5 512.6 L805.5 509.8 L808.5 503.8 L810.5 499.4 L813.5 492.2 L816.5 484 L818.5 480.4 L821.5 477.9 L823.5 477.4 L826.5 477.6 L828.5 484.2 L831.5 497.4 L834.5 508.9 L836.5 512.5 L839.5 517.9 L841.5 525.1 L844.5 537.9 L847.5 563.3 L849.5 581 L852.5 605 L854.5 613.7 L857.5 614.4 L859.5 610.9 L862.5 605.8 L865.5 606.4 L867.5 605.6 L870.5 593.8 L872.5 582.5 L875.5 570.5 L877.5 562.5 L880.5 556.8 L883.5 552.5 L885.5 551.6 L888.5 550.1 L890.5 547.8 L893.5 544.1 L896.5 541 L898.5 542.4 L901.5 546.2 L903.5 548.8 L906.5 552.6 L908.5 555.2 L911.5 555.5 L914.5 555.5 L916.5 555.8 L919.5 556.4 L921.5 556.8 L924.5 555.7 L926.5 554.4 L929.5 554.2 L932.5 555 L934.5 560 L937.5 567.5 L939.5 570.7 L942.5 575.5 L944.5 574.9 L947.5 574.1 L950.5 569.2 L952.5 564 L955.5 556.2 L957.5 551.2 L960.5 544.5 L963.5 541.1 L965.5 539 L968.5 536.3 L970.5 534.4 L973.5 533 L975.5 532.3 L978.5 533.4 L981.5 534.8 L983.5 533.5 L986.5 535.5 L988.5 539.5 L991.5 546.4 L993.5 551.6 L996.5 559 L999.5 561.6 L1001.5 563.4 L1004.5 563.3 L1006.5 562.3 L1009.5 561.6 L1012.5 563 L1014.5 561.9 L1017.5 560.2 L1019.5 559 L1022.5 558.4 L1024.5 558.1 L1027.5 559.8 L1030.5 562 L1032.5 561.2 L1035.5 558.2 L1037.5 556.2 L1040.5 549.5 L1042.5 545.1 L1045.5 539 L1048.5 536.3 L1050.5 534.4 L1053.5 529.7 L1055.5 526.1 L1058.5 519.6 L1061.5 510.9 L1063.5 507.3 L1066.5 508.8 L1068.5 515.8 L1071.5 522.5 L1073.5 526.5 L1076.5 526.3 L1079.5 524.9 L1081.5 525 L1084.5 526.2 L1086.5 527 L1089.5 526 L1091.5 525.4 L1094.5 525.4 L1097.5 526.1 L1099.5 526.6 L1102.5 524.3 L1104.5 522.2 L1107.5 519.4 L1109.5 518.2 L1112.5 516.4 L1115.5 516.5 L1117.5 519.8 L1120.5 533.1 L1122.5 538.1 L1125.5 546.4 L1128.5 562.9 L1130.5 574.2 L1133.5 595.2 L1135.5 608.8 L1138.5 623.8 L1140.5 633.4 L1143.5 643.9 L1146.5 652.1 L1148.5 655.4 L1151.5 655.4 L1153.5 657.2 L1156.5 658 L1158.5 656.8 L1161.5 655 L1164.5 647.5 L1166.5 642.5 L1169.5 630.5 L1171.5 622.5 L1174.5 611.7 L1177.5 600.9 L1179.5 594.8 L1182.5 585.8 L1184.5 581.1 L1187.5 574.5 L1189.5 570.5 L1192.5 566.1 L1195.5 561.8 L1197.5 560.5 L1200.5 558.5 L1202.5 559 L1205.5 568.5 L1207.5 576.5 L1210.5 588.2 L1213.5 596.4 L1215.5 601.4 L1218.5 603.8 L1220.5 602.4 L1223.5 600.3 L1226.5 596.5 L1228.5 593.7 L1231.5 590.5 L1233.5 589.4 L1236.5 587.7 L1238.5 586.5 L1241.5 585.4 L1244.5 584.4 L1246.5 583.8 L1249.5 582 L1251.5 580.8 L1254.5 580.4 L1256.5 580.9 L1259.5 580.6 L1262.5 579.6 L1264.5 581.9 L1267.5 585.9 L1269.5 587 L1272.5 588.1 L1274.5 588.9 L1277.5 590 L1280.5 589.2 L1282.5 587.4 L1285.5 584.5 L1287.5 580.5 L1290.5 574.4 L1293.5 566.9 L1295.5 562.2 L1298.5 558.3 L1300.5 555.8 L1303.5 553.5 L1305.5 552.4 L1308.5 551.6 L1311.5 553.2 L1313.5 554.2 L1316.5 556.2 L1318.5 557.6 L1321.5 555.9 L1323.5 551.4 L1326.5 545 L1329.5 539 L1331.5 535 L1334.5 532 L1336.5 530 L1339.5 527.1 L1342.5 524.4 L1344.5 522.9 L1347.5 522.4 L1349.5 522.1 L1352.5 522 L1354.5 522 L1357.5 522.7 L1360.5 524.7 L1362.5 526.1 L1365.5 531.8 L1367.5 535.8 L1370.5 541.4 L1372.5 543.6 L1375.5 539.8 L1378.5 537.4 L1380.5 538.3 L1383.5 539.8 L1385.5 541.2 L1388.5 543.6 L1391.5 550 L1393.5 558 L1396.5 569.2 L1398.5 575 L1401.5 580 L1403.5 579.8 L1406.5 579.5 L1409.5 577.6 L1411.5 576.3 L1414.5 575 L1416.5 574.5 L1419.5 573.7 L1421.5 573.5 L1424.5 573.2 L1427.5 574.3 L1429.5 577 L1432.5 576.6 L1434.5 575.5 L1437.5 573.2 L1440.5 571.9" fill="none" stroke="#1e88e5" stroke-width="1.25" stroke-linejoin="round"/>
<path d="M57 574 L60.5 574.2 L63.5 574.4 L65.5 574.9 L68.5 576.1 L71.5 577.8 L73.5 580.1 L76.5 582.2 L78.5 585.1 L81.5 588.1 L83.5 591.8 L86.5 595.4 L89.5 599.1 L91.5 602.8 L94.5 606 L96.5 609.3 L99.5 611.7 L101.5 613.8 L104.5 615.6 L107.5 617.2 L109.5 618.3 L112.5 618.8 L114.5 619.4 L117.5 619.8 L119.5 620 L122.5 620.2 L125.5 620.3 L127.5 620.4 L130.5 620.2 L132.5 619.7 L135.5 618.8 L138.5 617.9 L140.5 617 L143.5 616 L145.5 614.8 L148.5 613.7 L150.5 612.3 L153.5 611.1 L156.5 609.9 L158.5 608.9 L161.5 608.2 L163.5 607.2 L166.5 606.2 L168.5 604.9 L171.5 603.5 L174.5 601.9 L176.5 600.2 L179.5 598.5 L181.5 596.5 L184.5 594.6 L187.5 592.7 L189.5 592.1 L192.5 593 L194.5 595.4 L197.5 598 L199.5 601 L202.5 604.1 L205.5 606.7 L207.5 608.8 L210.5 610.1 L212.5 611.5 L215.5 612.6 L217.5 613.5 L220.5 614 L223.5 614.5 L225.5 615 L228.5 615.4 L230.5 616 L233.5 617.3 L236.5 619 L238.5 621.4 L241.5 623.4 L243.5 625.8 L246.5 627.9 L248.5 630.3 L251.5 632.5 L254.5 634.5 L256.5 636.7 L259.5 639.1 L261.5 642.8 L264.5 647.7 L266.5 655 L269.5 664.1 L272.5 673 L274.5 681.9 L277.5 689.9 L279.5 699.1 L282.5 707.5 L284.5 716.6 L287.5 725.4 L290.5 733 L292.5 739.2 L295.5 743.1 L297.5 746.7 L300.5 749 L303.5 749.6 L305.5 748 L308.5 743.6 L310.5 736.1 L313.5 727.1 L315.5 715.7 L318.5 703.6 L321.5 691.6 L323.5 680.2 L326.5 671 L328.5 660.8 L331.5 651.7 L333.5 641.2 L336.5 631.9 L339.5 623.9 L341.5 617.4 L344.5 612.6 L346.5 607.8 L349.5 604.1 L352.5 601 L354.5 598.9 L357.5 597.1 L359.5 594.5 L362.5 591.6 L364.5 587.8 L367.5 583.2 L370.5 578.4 L372.5 573.1 L375.5 568.8 L377.5 564.1 L380.5 560.4 L382.5 556.1 L385.5 552.2 L388.5 548.5 L390.5 545.2 L393.5 542.4 L395.5 539.8 L398.5 537.8 L401.5 536.1 L403.5 534.6 L406.5 533.5 L408.5 532.5 L411.5 531.7 L413.5 530.9 L416.5 530 L419.5 529.1 L421.5 528.4 L424.5 528.5 L426.5 529.4 L429.5 531.5 L431.5 535.1 L434.5 540 L437.5 544.8 L439.5 549.3 L442.5 552.9 L444.5 556.7 L447.5 559.6 L449.5 562.9 L452.5 566.5 L455.5 570.2 L457.5 574.2 L460.5 577.8 L462.5 581.3 L465.5 584.5 L468.5 587.4 L470.5 589.4 L473.5 590.6 L475.5 591 L478.5 590.6 L480.5 589.5 L483.5 588.2 L486.5 587 L488.5 585.8 L491.5 584.7 L493.5 583.8 L496.5 583.2 L498.5 583 L501.5 583.6 L504.5 584.8 L506.5 587.4 L509.5 591.1 L511.5 596.8 L514.5 602.9 L517.5 608.5 L519.5 613.1 L522.5 616.2 L524.5 618.9 L527.5 620 L529.5 620.4 L532.5 619.7 L535.5 618.2 L537.5 616.4 L540.5 614.4 L542.5 611.7 L545.5 608.9 L547.5 605.4 L550.5 602.3 L553.5 599.3 L555.5 596.7 L558.5 594.3 L560.5 591.5 L563.5 588.6 L566.5 585.6 L568.5 582.6 L571.5 579.9 L573.5 576.9 L576.5 574.3 L578.5 571.4 L581.5 568.6 L584.5 565.8 L586.5 563.6 L589.5 562.2 L591.5 561.1 L594.5 560.5 L596.5 560.1 L599.5 560.2 L602.5 560.3 L604.5 560.4 L607.5 560.4 L609.5 560.3 L612.5 560.1 L614.5 559.9 L617.5 559.7 L620.5 559.8 L622.5 560.1 L625.5 560.5 L627.5 561.1 L630.5 561.6 L633.5 562.1 L635.5 562.6 L638.5 563 L640.5 563.5 L643.5 563.9 L645.5 563.9 L648.5 563.6 L651.5 563.2 L653.5 562.6 L656.5 562 L658.5 561.1 L661.5 560.2 L663.5 559.2 L666.5 558.4 L669.5 557.6 L671.5 556.9 L674.5 556.4 L676.5 556.7 L679.5 558 L682.5 559.9 L684.5 561.9 L687.5 563.8 L689.5 565.8 L692.5 567.4 L694.5 569 L697.5 570.5 L700.5 571.4 L702.5 571.8 L705.5 571.6 L707.5 571.3 L710.5 570.7 L712.5 569.5 L715.5 567.8 L718.5 566.1 L720.5 564.1 L723.5 562.2 L725.5 559.9 L728.5 557.6 L731.5 555.2 L733.5 552.9 L736.5 550.9 L738.5 548.6 L741.5 546.9 L743.5 545 L746.5 543.3 L749.5 541.6 L751.5 540 L754.5 538.6 L756.5 537.1 L759.5 535.8 L761.5 534.3 L764.5 532.8 L767.5 531.3 L769.5 529.8 L772.5 528.6 L774.5 527.2 L777.5 526 L779.5 524.8 L782.5 523.8 L785.5 523 L787.5 522.5 L790.5 522.3 L792.5 521.8 L795.5 521.1 L798.5 520.4 L800.5 519.1 L803.5 517.5 L805.5 515.2 L808.5 512.9 L810.5 509.7 L813.5 506 L816.5 502 L818.5 497.8 L821.5 494.1 L823.5 490.7 L826.5 488.6 L828.5 488.6 L831.5 490.5 L834.5 493.6 L836.5 497.4 L839.5 501.4 L841.5 506.7 L844.5 514.5 L847.5 525 L849.5 539 L852.5 551.7 L854.5 564.3 L857.5 572.3 L859.5 579.7 L862.5 584.5 L865.5 588.9 L867.5 591.8 L870.5 592.6 L872.5 591.6 L875.5 588.7 L877.5 584.3 L880.5 579 L883.5 573.7 L885.5 568.6 L888.5 564.6 L890.5 560.6 L893.5 557.4 L896.5 554.7 L898.5 552.7 L901.5 551.6 L903.5 551 L906.5 551.2 L908.5 551.8 L911.5 552.4 L914.5 552.9 L916.5 553.5 L919.5 554 L921.5 554.2 L924.5 554.2 L926.5 554.2 L929.5 554.7 L932.5 555.5 L934.5 557 L937.5 558.7 L939.5 561.1 L942.5 563.2 L944.5 565.3 L947.5 566.9 L950.5 567.6 L952.5 567 L955.5 565.3 L957.5 562.7 L960.5 559.3 L963.5 555.9 L965.5 552.6 L968.5 550 L970.5 547 L973.5 544.7 L975.5 542.4 L978.5 540.6 L981.5 539 L983.5 538 L986.5 537.9 L988.5 538.8 L991.5 540.5 L993.5 543.1 L996.5 546.2 L999.5 549.2 L1001.5 551.8 L1004.5 553.7 L1006.5 555.5 L1009.5 556.9 L1012.5 558.1 L1014.5 558.8 L1017.5 559.1 L1019.5 559 L1022.5 558.9 L1024.5 558.9 L1027.5 559.1 L1030.5 559.4 L1032.5 559.6 L1035.5 559.2 L1037.5 558.1 L1040.5 556.6 L1042.5 554.4 L1045.5 552 L1048.5 549.2 L1050.5 546 L1053.5 542.8 L1055.5 538.7 L1058.5 534.3 L1061.5 529.9 L1063.5 526.1 L1066.5 523.5 L1068.5 522.3 L1071.5 522.2 L1073.5 522.9 L1076.5 523.5 L1079.5 524 L1081.5 524.3 L1084.5 524.5 L1086.5 524.8 L1089.5 524.9 L1091.5 525 L1094.5 525 L1097.5 525 L1099.5 524.9 L1102.5 524.5 L1104.5 523.8 L1107.5 522.9 L1109.5 521.9 L1112.5 521 L1115.5 520.3 L1117.5 520.9 L1120.5 522.5 L1122.5 526 L1125.5 530.6 L1128.5 536.8 L1130.5 545.2 L1133.5 554.4 L1135.5 565.8 L1138.5 576.2 L1140.5 588 L1143.5 599.3 L1146.5 609.7 L1148.5 619 L1151.5 625.6 L1153.5 632.2 L1156.5 636.6 L1158.5 640.5 L1161.5 643 L1164.5 644.1 L1166.5 643.6 L1169.5 641.4 L1171.5 637.8 L1174.5 632.5 L1177.5 626.6 L1179.5 620.1 L1182.5 613.9 L1184.5 606.6 L1187.5 600.3 L1189.5 593.7 L1192.5 588 L1195.5 583 L1197.5 578.4 L1200.5 575 L1202.5 572.1 L1205.5 571.4 L1207.5 572.9 L1210.5 576.3 L1213.5 580.1 L1215.5 584 L1218.5 587.1 L1220.5 589.8 L1223.5 591.8 L1226.5 592.9 L1228.5 593.2 L1231.5 592.6 L1233.5 591.9 L1236.5 591.2 L1238.5 590.4 L1241.5 589.4 L1244.5 588.4 L1246.5 587.4 L1249.5 586.5 L1251.5 585.5 L1254.5 584.6 L1256.5 583.8 L1259.5 583.1 L1262.5 582.5 L1264.5 582.3 L1267.5 582.6 L1269.5 583.5 L1272.5 584.3 L1274.5 585.1 L1277.5 585.8 L1280.5 586.4 L1282.5 586.3 L1285.5 585.5 L1287.5 583.9 L1290.5 581.7 L1293.5 579.1 L1295.5 575.9 L1298.5 573.1 L1300.5 569.6 L1303.5 566.6 L1305.5 563.6 L1308.5 561.3 L1311.5 559.4 L1313.5 558.3 L1316.5 558 L1318.5 557.6 L1321.5 556.6 L1323.5 554.8 L1326.5 552.2 L1329.5 549.5 L1331.5 546.6 L1334.5 543.9 L1336.5 541 L1339.5 538.2 L1342.5 535.6 L1344.5 533.2 L1347.5 531.4 L1349.5 529.6 L1352.5 528.2 L1354.5 527.1 L1357.5 526.4 L1360.5 525.9 L1362.5 526.3 L1365.5 527.3 L1367.5 529.2 L1370.5 530.8 L1372.5 532.7 L1375.5 534 L1378.5 534.9 L1380.5 535.3 L1383.5 536 L1385.5 537.1 L1388.5 539 L1391.5 541.7 L1393.5 545.5 L1396.5 549.5 L1398.5 554.2 L1401.5 558.2 L1403.5 562 L1406.5 565 L1409.5 567.4 L1411.5 569.2 L1414.5 570.2 L1416.5 571.2 L1419.5 571.8 L1421.5 572.3 L1424.5 572.6 L1427.5 573 L1429.5 573.5 L1432.5 574 L1434.5 574.1 L1437.5 573.8 L1440.5 573.4" fill="none" stroke="#e8710a" stroke-width="1.25" stroke-linejoin="round"/>
<path d="M58 440.5H1506" stroke="#d6d6d6" stroke-width="1"/>
<path d="M1442.5 82V797" stroke="#e0e0e0" stroke-width="1"/>
<text x="1452.3" y="114.6" font-size="12" fill="#e4e4e6" textLength="41.5" lengthAdjust="spacingAndGlyphs" font-weight="bold">1500.00</text>
<text x="1452.3" y="149.8" font-size="12" fill="#e4e4e6" textLength="41.5" lengthAdjust="spacingAndGlyphs" font-weight="bold">1400.00</text>
<text x="1452.3" y="185" font-size="12" fill="#e4e4e6" textLength="41.5" lengthAdjust="spacingAndGlyphs" font-weight="bold">1300.00</text>
<text x="1452.3" y="220.2" font-size="12" fill="#e4e4e6" textLength="41.5" lengthAdjust="spacingAndGlyphs" font-weight="bold">1200.00</text>
<text x="1452.3" y="255.4" font-size="12" fill="#e4e4e6" textLength="41.5" lengthAdjust="spacingAndGlyphs" font-weight="bold">1100.00</text>
<text x="1452.3" y="290.6" font-size="12" fill="#e4e4e6" textLength="41.5" lengthAdjust="spacingAndGlyphs" font-weight="bold">1000.00</text>
<text x="1452.3" y="325.8" font-size="12" fill="#e4e4e6" textLength="35.5" lengthAdjust="spacingAndGlyphs" font-weight="bold">900.00</text>
<text x="1452.3" y="361" font-size="12" fill="#e4e4e6" textLength="35.5" lengthAdjust="spacingAndGlyphs" font-weight="bold">800.00</text>
<text x="1452.3" y="396.2" font-size="12" fill="#e4e4e6" textLength="35.5" lengthAdjust="spacingAndGlyphs" font-weight="bold">700.00</text>
<text x="1452.3" y="431.4" font-size="12" fill="#e4e4e6" textLength="35.5" lengthAdjust="spacingAndGlyphs" font-weight="bold">600.00</text>
<text x="1452.3" y="485.8" font-size="12" fill="#e4e4e6" textLength="29.5" lengthAdjust="spacingAndGlyphs" font-weight="bold">40.00</text>
<text x="1452.3" y="541.6" font-size="12" fill="#e4e4e6" textLength="29.5" lengthAdjust="spacingAndGlyphs" font-weight="bold">20.00</text>
<text x="1452.3" y="597.4" font-size="12" fill="#e4e4e6" textLength="23" lengthAdjust="spacingAndGlyphs" font-weight="bold">0.00</text>
<text x="1452.3" y="653.2" font-size="12" fill="#e4e4e6" textLength="35.5" lengthAdjust="spacingAndGlyphs" font-weight="bold">−20.00</text>
<text x="1452.3" y="709" font-size="12" fill="#e4e4e6" textLength="35.5" lengthAdjust="spacingAndGlyphs" font-weight="bold">−40.00</text>
<text x="1452.3" y="764.8" font-size="12" fill="#e4e4e6" textLength="35.5" lengthAdjust="spacingAndGlyphs" font-weight="bold">−60.00</text>
<path d="M1443 110.5h4M1443 146.5h4M1443 181.5h4M1443 216.5h4M1443 251.5h4M1443 286.5h4M1443 322.5h4M1443 357.5h4M1443 392.5h4M1443 427.5h4M1443 482.5h4M1443 537.5h4M1443 593.5h4M1443 649.5h4M1443 705.5h4M1443 761.5h4" stroke="#e0e0e0" stroke-width="1"/>
<rect x="1442" y="107" width="59" height="17" rx="2" fill="#ff0000"/>
<path d="M1443 115.5h4" stroke="#fff"/>
<text x="1452.3" y="119.6" font-size="12" fill="#fff" textLength="41.5" lengthAdjust="spacingAndGlyphs" font-weight="bold">1485.82</text>
<rect x="1383.5" y="255.5" width="57.5" height="16.5" rx="2" fill="#ff0000"/>
<rect x="1442" y="255.5" width="59" height="16.5" rx="2" fill="#ff0000"/>
<path d="M1443 263.5h4" stroke="#fff"/>
<text x="1389" y="267.6" font-size="12" fill="#fff" textLength="46.5" lengthAdjust="spacingAndGlyphs">VNINDEX</text>
<text x="1452.3" y="267.6" font-size="12" fill="#fff" textLength="41.5" lengthAdjust="spacingAndGlyphs" font-weight="bold">1065.85</text>
<text x="66.4" y="104" font-size="16" fill="#f2f2f2" textLength="67.2" lengthAdjust="spacingAndGlyphs" stroke="#f2f2f2" stroke-width="0.4">VNINDEX</text>
<text x="138.6" y="104" font-size="16" fill="#5d606b">·</text>
<text x="147" y="104" font-size="16" fill="#f2f2f2" textLength="16.6" lengthAdjust="spacingAndGlyphs" stroke="#f2f2f2" stroke-width="0.4">1D</text>
<text x="170" y="104" font-size="16" fill="#5d606b">·</text>
<text x="178.2" y="104" font-size="16" fill="#f2f2f2" textLength="29.5" lengthAdjust="spacingAndGlyphs" stroke="#f2f2f2" stroke-width="0.4">HSX</text>
<circle cx="231.9" cy="98.2" r="8.6" fill="#2a2e39"/><rect x="227.5" y="96.6" width="8.8" height="3.2" rx="1.6" fill="#b2b5be"/>
<text x="257.6" y="103.6" font-size="12" fill="#f2f2f2" textLength="9.2" lengthAdjust="spacingAndGlyphs" font-weight="bold">O</text>
<text x="268.4" y="103.6" font-size="13" fill="#e8121a" textLength="46" lengthAdjust="spacingAndGlyphs">1073.12</text>
<text x="321" y="103.6" font-size="12" fill="#f2f2f2" textLength="8.8" lengthAdjust="spacingAndGlyphs" font-weight="bold">H</text>
<text x="331.3" y="103.6" font-size="13" fill="#e8121a" textLength="46.1" lengthAdjust="spacingAndGlyphs">1073.96</text>
<text x="384.3" y="103.6" font-size="12" fill="#f2f2f2" textLength="6.6" lengthAdjust="spacingAndGlyphs" font-weight="bold">L</text>
<text x="392.7" y="103.6" font-size="13" fill="#e8121a" textLength="46.1" lengthAdjust="spacingAndGlyphs">1062.15</text>
<text x="445.7" y="103.6" font-size="12" fill="#f2f2f2" textLength="8.8" lengthAdjust="spacingAndGlyphs" font-weight="bold">C</text>
<text x="456" y="103.6" font-size="13" fill="#e8121a" textLength="46" lengthAdjust="spacingAndGlyphs">1065.85</text>
<text x="509" y="103.6" font-size="13" fill="#e8121a" textLength="85.7" lengthAdjust="spacingAndGlyphs">−4.79 (−0.45%)</text>
<text x="66.4" y="127.1" font-size="13" fill="#f2f2f2" textLength="45.3" lengthAdjust="spacingAndGlyphs" font-weight="bold">BB 20 2</text>
<text x="120.6" y="127.1" font-size="13" fill="#e9a51c" textLength="46.8" lengthAdjust="spacingAndGlyphs">1054.15</text>
<text x="173.9" y="127.1" font-size="13" fill="#2a5fd9" textLength="46.1" lengthAdjust="spacingAndGlyphs">1077.51</text>
<text x="226.9" y="127.1" font-size="13" fill="#2a5fd9" textLength="46.8" lengthAdjust="spacingAndGlyphs">1030.79</text>
<text x="67.2" y="151.2" font-size="13" fill="#4d505c" textLength="44.7" lengthAdjust="spacingAndGlyphs">BB 20 2</text>
<g transform="translate(130.2 146.7)" fill="none" stroke="#b9bcc6" stroke-width="1.1"><path d="M-7.6 0C-4.4 -6 4.4 -6 7.6 0C4.4 6 -4.4 6 -7.6 0Z"/><circle r="3"/><path d="M-5.6 6.3L5.6 -6.3"/></g>
<text x="67.2" y="175.2" font-size="13" fill="#4d505c" textLength="82.8" lengthAdjust="spacingAndGlyphs">MA 50 close 0</text>
<g transform="translate(168 170.7)" fill="none" stroke="#b9bcc6" stroke-width="1.1"><path d="M-7.6 0C-4.4 -6 4.4 -6 7.6 0C4.4 6 -4.4 6 -7.6 0Z"/><circle r="3"/><path d="M-5.6 6.3L5.6 -6.3"/></g>
<text x="67.2" y="199.1" font-size="13" fill="#4d505c" textLength="82.8" lengthAdjust="spacingAndGlyphs">MA 20 close 0</text>
<g transform="translate(168 194.6)" fill="none" stroke="#b9bcc6" stroke-width="1.1"><path d="M-7.6 0C-4.4 -6 4.4 -6 7.6 0C4.4 6 -4.4 6 -7.6 0Z"/><circle r="3"/><path d="M-5.6 6.3L5.6 -6.3"/></g>
<text x="67.2" y="223" font-size="13" fill="#4d505c" textLength="82.8" lengthAdjust="spacingAndGlyphs">MA 10 close 0</text>
<g transform="translate(168 218.5)" fill="none" stroke="#b9bcc6" stroke-width="1.1"><path d="M-7.6 0C-4.4 -6 4.4 -6 7.6 0C4.4 6 -4.4 6 -7.6 0Z"/><circle r="3"/><path d="M-5.6 6.3L5.6 -6.3"/></g>
<text x="67.2" y="247.1" font-size="13" fill="#4d505c" textLength="133.8" lengthAdjust="spacingAndGlyphs">Khối lượng - Volume 20</text>
<g transform="translate(220 242.6)" fill="none" stroke="#b9bcc6" stroke-width="1.1"><path d="M-7.6 0C-4.4 -6 4.4 -6 7.6 0C4.4 6 -4.4 6 -7.6 0Z"/><circle r="3"/><path d="M-5.6 6.3L5.6 -6.3"/></g>
<rect x="67.5" y="256.5" width="28" height="20" rx="3" fill="#131722" fill-opacity="0.25" stroke="#363a45"/>
<path d="M77.6 268.6l4 -3.9l4 3.9" fill="none" stroke="#d4d4d8" stroke-width="1.4"/>
<text x="67.2" y="462" font-size="13" fill="#f2f2f2" textLength="117.4" lengthAdjust="spacingAndGlyphs" font-weight="bold">MACD 12 26 close 9</text>
<text x="193.3" y="462" font-size="13" fill="#a7cdc7" textLength="24.5" lengthAdjust="spacingAndGlyphs">1.79</text>
<text x="225" y="462" font-size="13" fill="#1e88e5" textLength="23.5" lengthAdjust="spacingAndGlyphs">4.01</text>
<text x="256" y="462" font-size="13" fill="#e8710a" textLength="24.6" lengthAdjust="spacingAndGlyphs">2.22</text>
</svg></div>
</div>
</body></html>
